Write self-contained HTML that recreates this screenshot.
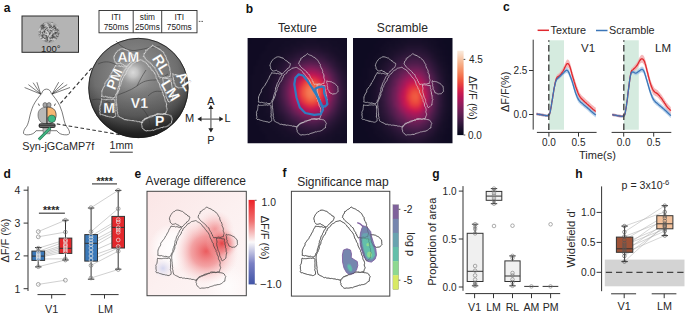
<!DOCTYPE html>
<html><head><meta charset="utf-8">
<style>
html,body{margin:0;padding:0;background:#fff;}
body{width:685px;height:317px;overflow:hidden;}
svg{display:block;font-family:"Liberation Sans",sans-serif;}
.lb{font-weight:bold;font-size:12px;fill:#111;}
.t{fill:#262626;}
</style></head><body>
<svg width="685" height="317" viewBox="0 0 685 317" xmlns="http://www.w3.org/2000/svg">
<defs>
 <g id="ol">
  <path d="M22.4,27.6 L22.7,26.0 L23.4,24.6 L23.9,23.3 L24.9,22.4 L25.7,21.2 L26.5,20.4 L27.7,20.1 L28.5,19.2 L29.6,18.9 L30.8,18.8 L32.0,19.0 L33.2,19.4 L34.3,19.9 L35.5,20.1 L36.4,20.8 L37.2,21.7 L38.0,22.5 L39.1,22.9 L40.1,23.6 L40.8,24.7 L42.2,25.0 L42.8,25.9 L42.6,27.1 L42.2,28.2 L41.7,29.4 L40.8,30.1 L39.7,30.6 L39.3,31.7 L38.3,32.3 L37.4,33.0 L36.8,34.0 L35.9,34.7 L35.0,35.8 L33.8,35.4 L32.7,34.9 L31.9,34.0 L30.8,33.6 L29.7,33.1 L28.8,32.3 L27.5,32.7 L26.2,33.0 L25.1,33.0 L24.2,31.9 L23.1,30.8 L23.0,29.2Z"/>
  <path d="M24.1,34.7 L25.2,35.1 L26.4,35.2 L27.6,35.1 L28.6,35.7 L29.9,35.3 L31.0,35.7 L32.1,36.1 L33.3,35.9 L34.4,36.3 L34.1,37.6 L33.1,38.6 L32.4,39.7 L32.0,41.0 L31.2,42.1 L30.9,43.5 L30.1,44.5 L29.5,45.8 L29.2,46.9 L29.0,48.0 L28.4,49.0 L28.0,50.1 L28.0,51.3 L27.6,52.4 L27.7,53.7 L27.0,54.8 L26.8,56.0 L26.2,57.2 L25.9,58.6 L25.8,60.1 L25.2,61.2 L24.4,62.3 L24.2,63.7 L23.3,64.7 L22.5,65.7 L21.3,65.6 L20.1,65.5 L19.0,64.9 L17.7,65.2 L16.6,64.9 L15.4,64.7 L14.3,64.2 L13.0,64.6 L11.9,64.2 L10.7,64.0 L11.0,62.7 L10.9,61.3 L10.9,60.1 L11.1,58.6 L11.7,57.3 L12.2,56.0 L13.1,54.8 L13.7,53.5 L13.7,52.0 L14.5,50.9 L15.3,49.9 L16.0,48.8 L16.8,48.0 L17.5,47.1 L18.0,46.0 L18.5,44.9 L19.3,44.2 L19.8,42.8 L20.5,41.6 L21.3,40.4 L21.7,39.2 L22.2,38.0 L22.9,36.9 L23.6,35.9Z"/>
  <path d="M10.7,66.8 L11.9,67.4 L13.1,67.3 L14.2,67.4 L15.4,67.3 L16.6,67.0 L17.8,67.0 L19.0,66.8 L20.1,67.2 L21.3,66.8 L22.7,66.9 L23.5,67.9 L23.5,69.0 L23.4,70.2 L23.6,71.3 L23.6,72.4 L23.5,73.5 L23.6,74.7 L23.4,75.8 L23.8,76.9 L23.3,78.2 L23.6,79.4 L24.1,80.5 L24.1,81.7 L24.1,83.0 L23.1,83.5 L22.1,84.2 L21.0,84.3 L19.8,83.8 L18.5,83.7 L17.4,83.3 L16.1,83.2 L14.9,82.8 L13.7,82.4 L12.4,82.1 L11.2,81.4 L9.7,81.5 L8.8,80.5 L9.4,79.2 L9.1,78.0 L8.9,76.7 L9.1,75.5 L8.8,74.1 L9.4,73.0 L10.0,71.9 L10.1,70.7 L10.3,69.5 L10.3,68.2Z"/>
  <path d="M36.1,37.5 L36.8,36.6 L37.9,36.1 L38.5,35.2 L39.4,34.5 L39.9,33.4 L41.0,32.5 L42.3,32.0 L43.4,31.2 L44.4,30.3 L45.8,30.0 L47.2,29.7 L48.5,29.3 L49.6,29.7 L50.5,30.5 L51.5,31.0 L52.5,31.5 L53.5,32.2 L54.2,33.1 L55.0,33.8 L55.6,34.8 L56.3,35.8 L57.3,36.3 L57.8,37.3 L58.4,38.2 L59.1,39.2 L60.0,39.9 L60.7,40.8 L61.4,41.7 L62.0,42.9 L62.6,44.1 L62.9,45.4 L63.3,46.7 L63.9,47.8 L64.6,48.8 L64.9,49.9 L65.3,51.1 L66.3,52.0 L66.4,53.3 L66.7,54.6 L67.3,55.7 L67.8,56.9 L68.5,58.0 L69.1,59.0 L69.1,60.3 L69.9,61.3 L70.0,62.5 L70.3,63.7 L71.1,64.7 L71.4,65.9 L71.4,67.3 L71.9,68.5 L72.7,69.7 L73.1,71.0 L73.2,72.2 L72.8,73.6 L73.1,74.9 L73.7,76.1 L73.4,77.3 L72.9,78.3 L72.6,79.4 L72.3,80.6 L71.0,80.6 L69.8,81.1 L68.5,81.3 L67.2,80.8 L66.0,81.2 L64.7,81.5 L63.5,81.5 L62.5,82.2 L61.3,82.3 L60.2,82.6 L59.2,83.4 L58.1,83.7 L56.9,84.1 L55.7,84.7 L54.4,84.9 L53.3,85.7 L52.0,86.0 L51.5,87.1 L50.4,87.8 L50.0,89.1 L48.7,88.8 L47.5,88.5 L46.3,88.1 L44.9,88.2 L43.7,87.6 L42.4,87.6 L41.2,87.3 L39.9,87.1 L38.7,87.3 L37.6,86.8 L36.5,86.8 L35.3,86.8 L34.3,86.1 L33.1,86.4 L32.0,86.0 L31.0,85.2 L29.8,84.7 L28.6,84.2 L27.6,83.5 L26.5,82.9 L26.5,81.8 L25.9,80.7 L26.1,79.6 L25.7,78.5 L25.5,77.4 L25.7,76.1 L25.4,74.8 L25.3,73.6 L25.2,72.3 L25.2,71.0 L24.8,69.7 L24.9,68.5 L24.7,67.2 L24.7,66.0 L24.7,64.7 L25.0,63.5 L25.5,62.4 L25.9,61.3 L26.6,60.3 L26.9,59.0 L27.5,57.9 L27.9,56.7 L27.8,55.3 L28.4,54.1 L29.1,53.0 L29.5,51.9 L29.5,50.6 L30.0,49.4 L30.7,48.4 L30.9,47.2 L31.6,46.0 L32.1,44.8 L33.1,43.8 L33.8,42.7 L34.4,41.7 L34.4,40.5 L35.3,39.7 L35.8,38.7Z"/>
  <path d="M51.6,23.6 L52.5,22.7 L53.1,21.7 L53.2,20.3 L54.5,20.0 L55.3,18.9 L56.3,18.2 L57.5,17.7 L58.6,16.8 L59.7,15.6 L60.7,16.3 L61.7,16.9 L62.9,17.3 L64.0,17.7 L65.0,18.4 L65.9,19.1 L67.2,19.5 L68.0,20.6 L69.1,21.3 L70.2,22.2 L70.8,23.4 L71.4,24.5 L72.0,25.5 L72.8,26.4 L72.7,27.7 L73.2,28.8 L73.4,29.9 L74.4,30.8 L74.7,32.0 L75.2,33.1 L75.0,34.5 L75.7,35.6 L76.2,36.7 L76.4,38.0 L76.2,39.1 L76.4,40.2 L76.9,41.3 L77.1,42.4 L76.7,43.4 L76.3,45.5 L75.1,45.4 L74.0,46.0 L72.9,46.1 L71.7,45.7 L70.6,46.0 L69.5,46.3 L68.0,46.1 L66.9,46.8 L66.5,45.6 L65.5,44.8 L65.5,43.5 L64.4,42.7 L64.4,41.4 L63.5,40.3 L62.8,39.2 L62.3,38.0 L61.8,36.6 L60.7,36.0 L59.8,35.1 L59.2,34.0 L58.3,33.2 L57.4,32.4 L56.4,31.6 L55.4,30.8 L54.4,30.0 L53.4,29.1 L52.6,28.1 L52.0,26.9 L50.9,26.0 L51.4,24.9Z"/>
  <path d="M69.4,46.8 L70.5,47.0 L71.7,46.8 L72.8,47.1 L73.9,47.0 L75.0,47.6 L76.1,47.5 L77.4,47.6 L77.4,48.9 L77.3,50.2 L78.1,51.5 L77.8,52.8 L78.3,53.9 L78.5,55.0 L78.4,56.1 L79.0,57.1 L79.1,58.2 L79.2,59.4 L79.2,60.5 L79.9,61.5 L79.3,62.8 L79.2,64.1 L79.0,65.4 L78.9,66.8 L77.8,67.7 L76.8,68.7 L75.3,69.6 L74.3,68.6 L74.3,67.3 L73.6,66.2 L73.1,65.1 L72.6,63.9 L72.7,62.6 L72.3,61.4 L71.8,60.3 L71.2,59.3 L70.9,58.1 L70.6,57.0 L70.4,55.8 L69.9,54.7 L69.8,53.5 L69.6,52.2 L70.0,50.9 L69.9,49.6 L69.5,48.3Z"/>
  <path d="M79.3,42.8 L80.4,43.6 L81.7,43.4 L82.8,43.7 L84.0,43.9 L84.9,44.5 L85.9,45.0 L86.9,45.4 L88.1,46.3 L88.9,47.5 L90.2,48.6 L90.2,49.7 L90.4,50.8 L90.3,51.9 L90.6,53.2 L89.9,54.1 L89.0,54.8 L88.2,55.8 L86.6,55.8 L85.0,56.1 L83.6,55.3 L82.1,54.8 L81.6,53.6 L81.1,52.4 L80.2,51.3 L80.0,50.2 L80.2,49.0 L79.5,48.0 L79.7,46.8 L79.5,45.5 L79.0,44.3Z"/>
  <path d="M71.7,81.1 L72.8,81.4 L73.9,81.4 L75.0,81.7 L76.0,81.9 L77.3,82.8 L77.9,84.1 L78.8,85.3 L78.3,86.4 L78.1,87.5 L77.9,88.6 L77.9,89.8 L76.6,90.4 L75.5,91.4 L74.4,92.3 L73.3,92.8 L72.3,93.2 L71.2,93.3 L70.0,93.4 L69.0,93.9 L67.8,93.8 L66.8,94.3 L65.7,94.7 L64.7,95.0 L63.4,95.3 L62.2,95.8 L61.1,96.5 L59.7,96.3 L58.5,96.6 L57.3,96.8 L56.0,96.8 L54.8,96.7 L53.5,97.1 L52.4,96.7 L51.3,95.7 L50.3,94.6 L49.5,93.3 L49.6,92.2 L49.0,91.1 L49.2,90.0 L49.0,89.1 L49.7,88.0 L50.5,87.0 L51.4,86.2 L52.3,85.4 L53.5,85.0 L54.7,84.5 L55.9,84.1 L56.9,83.3 L58.1,82.9 L59.3,82.5 L60.5,82.5 L61.5,81.9 L62.6,81.7 L63.5,80.9 L64.7,80.6 L65.9,80.7 L67.0,81.0 L68.2,81.0 L69.4,81.0 L70.5,80.8Z"/>
 </g>
 <radialGradient id="magT" cx="61" cy="61" r="52" gradientUnits="userSpaceOnUse" gradientTransform="translate(61 61) scale(1 1.12) translate(-61 -61)">
  <stop offset="0" stop-color="#fb9a66"/>
  <stop offset="0.085" stop-color="#f77a5c"/>
  <stop offset="0.18" stop-color="#e84e5f"/>
  <stop offset="0.27" stop-color="#c62e6a"/>
  <stop offset="0.355" stop-color="#8f1d68"/>
  <stop offset="0.43" stop-color="#62165c"/>
  <stop offset="0.53" stop-color="#3a1046"/>
  <stop offset="0.64" stop-color="#261032"/>
  <stop offset="0.78" stop-color="#1e0f2b"/>
  <stop offset="0.9" stop-color="#190f25"/>
  <stop offset="1" stop-color="#13101f"/>
 </radialGradient>
 <radialGradient id="magS" cx="63" cy="58.5" r="52" gradientUnits="userSpaceOnUse" gradientTransform="translate(63 58.5) scale(1 1.12) translate(-63 -58.5)">
  <stop offset="0" stop-color="#f37a58"/>
  <stop offset="0.085" stop-color="#ea5a5e"/>
  <stop offset="0.18" stop-color="#d63b66"/>
  <stop offset="0.27" stop-color="#b02a6c"/>
  <stop offset="0.355" stop-color="#811a66"/>
  <stop offset="0.43" stop-color="#5a145a"/>
  <stop offset="0.53" stop-color="#351044"/>
  <stop offset="0.64" stop-color="#241031"/>
  <stop offset="0.78" stop-color="#1d0f2a"/>
  <stop offset="0.9" stop-color="#180f24"/>
  <stop offset="1" stop-color="#13101f"/>
 </radialGradient>
 <linearGradient id="magCB" x1="0" y1="1" x2="0" y2="0">
  <stop offset="0.00" stop-color="#03051a"/>
  <stop offset="0.05" stop-color="#130d25"/>
  <stop offset="0.10" stop-color="#251433"/>
  <stop offset="0.15" stop-color="#381a40"/>
  <stop offset="0.20" stop-color="#4c1d4b"/>
  <stop offset="0.25" stop-color="#611f53"/>
  <stop offset="0.30" stop-color="#751f58"/>
  <stop offset="0.35" stop-color="#8b1d5b"/>
  <stop offset="0.40" stop-color="#a11a5b"/>
  <stop offset="0.45" stop-color="#b71657"/>
  <stop offset="0.50" stop-color="#cb1b4f"/>
  <stop offset="0.55" stop-color="#db2946"/>
  <stop offset="0.60" stop-color="#e83f3f"/>
  <stop offset="0.65" stop-color="#ef5840"/>
  <stop offset="0.70" stop-color="#f3714d"/>
  <stop offset="0.75" stop-color="#f58860"/>
  <stop offset="0.80" stop-color="#f69c73"/>
  <stop offset="0.85" stop-color="#f6b18b"/>
  <stop offset="0.90" stop-color="#f7c6a6"/>
  <stop offset="0.95" stop-color="#f8d9c3"/>
  <stop offset="1.00" stop-color="#faebdd"/>
 </linearGradient>
 <linearGradient id="bwr" x1="0" y1="0" x2="0" y2="1">
  <stop offset="0" stop-color="#ec2228"/>
  <stop offset="0.25" stop-color="#f07070"/>
  <stop offset="0.5" stop-color="#fbf9f9"/>
  <stop offset="0.75" stop-color="#7a80c4"/>
  <stop offset="1" stop-color="#4154a6"/>
 </linearGradient>
 <radialGradient id="brainL" cx="136" cy="74" r="60" gradientUnits="userSpaceOnUse">
  <stop offset="0" stop-color="#929292"/>
  <stop offset="0.45" stop-color="#7c7c7c"/>
  <stop offset="0.7" stop-color="#6e6e6e"/>
  <stop offset="0.85" stop-color="#5a5a5a"/>
  <stop offset="1" stop-color="#3a3a3a"/>
 </radialGradient>
 <linearGradient id="brainB" x1="0" y1="86" x2="0" y2="138" gradientUnits="userSpaceOnUse">
  <stop offset="0" stop-color="#000" stop-opacity="0"/>
  <stop offset="0.55" stop-color="#000" stop-opacity="0.2"/>
  <stop offset="1" stop-color="#000" stop-opacity="0.5"/>
 </linearGradient>
 <radialGradient id="brainS" cx="133" cy="72.5" r="24" gradientUnits="userSpaceOnUse">
  <stop offset="0" stop-color="#e0e0e0" stop-opacity="0.92"/>
  <stop offset="0.2" stop-color="#cfcfcf" stop-opacity="0.85"/>
  <stop offset="0.5" stop-color="#a8a8a8" stop-opacity="0.45"/>
  <stop offset="1" stop-color="#888" stop-opacity="0"/>
 </radialGradient>
 <radialGradient id="eR1" cx="59" cy="60" r="33" gradientUnits="userSpaceOnUse">
  <stop offset="0" stop-color="#ea5457" stop-opacity="0.95"/>
  <stop offset="0.45" stop-color="#ef7f81" stop-opacity="0.7"/>
  <stop offset="1" stop-color="#f8d0d0" stop-opacity="0"/>
 </radialGradient>
 <radialGradient id="eR2" cx="75" cy="52" r="16" gradientUnits="userSpaceOnUse">
  <stop offset="0" stop-color="#e2363a" stop-opacity="0.9"/>
  <stop offset="0.55" stop-color="#ec6f72" stop-opacity="0.55"/>
  <stop offset="1" stop-color="#f5c0c0" stop-opacity="0"/>
 </radialGradient>
 <radialGradient id="eR3" cx="68" cy="38" r="19" gradientUnits="userSpaceOnUse">
  <stop offset="0" stop-color="#ee6e71" stop-opacity="0.75"/>
  <stop offset="1" stop-color="#f7c8c8" stop-opacity="0"/>
 </radialGradient>
 <radialGradient id="eW" cx="26" cy="56" r="24" gradientUnits="userSpaceOnUse">
  <stop offset="0" stop-color="#ffffff" stop-opacity="1"/>
  <stop offset="0.6" stop-color="#ffffff" stop-opacity="0.7"/>
  <stop offset="1" stop-color="#ffffff" stop-opacity="0"/>
 </radialGradient>
 <radialGradient id="eW2" cx="80" cy="95" r="22" gradientUnits="userSpaceOnUse">
  <stop offset="0" stop-color="#ffffff" stop-opacity="0.8"/>
  <stop offset="1" stop-color="#ffffff" stop-opacity="0"/>
 </radialGradient>
 <radialGradient id="eB" cx="16" cy="77" r="10" gradientUnits="userSpaceOnUse">
  <stop offset="0" stop-color="#d4d6ef" stop-opacity="1"/>
  <stop offset="1" stop-color="#ebebf6" stop-opacity="0"/>
 </radialGradient>
 <linearGradient id="eBG" x1="0" y1="0" x2="1" y2="1">
  <stop offset="0" stop-color="#fbe6e6"/>
  <stop offset="0.5" stop-color="#fcf0f0"/>
  <stop offset="1" stop-color="#fdf6f6"/>
 </linearGradient>
<clipPath id="cpH1"><rect width="99.4" height="105.2"/></clipPath>
<clipPath id="cpH2"><rect width="99.5" height="105.2"/></clipPath>
<filter id="blH" x="-0.1" y="-0.1" width="1.2" height="1.2" color-interpolation-filters="sRGB"><feGaussianBlur stdDeviation="1.5"/></filter>
</defs>

<!-- ============ PANEL A ============ -->
<text class="lb" x="3.8" y="12">a</text>
<rect x="22" y="16" width="56.5" height="36.3" fill="#b4b4b4" stroke="#2b2b2b" stroke-width="1"/>
<g transform="translate(48.9,32.1)">
 <circle r="10.7" fill="#a2a2a2"/>
 <g fill="none" stroke-linecap="round" stroke-linejoin="round">
  <path d="M-6.4,-2.5 L-5.4,-3.2 L-4.4,-3.8 L-3.3,-4.2 M-4.4,-0.3 L-4.4,-1.5 L-5.4,-2.1 L-6.6,-2.1 M1.1,-2.9 L-0.1,-2.9 L-0.4,-4.1 L0.5,-4.8 M-6.2,-5.5 L-5.1,-5.9 L-3.9,-6.1 L-3.6,-7.3 M0.2,4.5 L1.4,4.6 L2.6,4.5 L3.4,5.4 M-4.7,-5.7 L-5.8,-6.2 L-7.0,-6.6 L-8.1,-6.3 M0.7,5.7 L1.7,6.5 L1.9,7.7 L2.4,8.8 M-7.2,6.2 L-6.2,6.9 L-5.3,6.2 L-5.1,5.0 M-9.7,1.8 L-8.5,1.4 L-8.5,0.2 L-8.0,-0.9 M-1.1,9.0 L0.1,9.2 M6.6,6.1 L7.7,6.6 M4.0,8.3 L2.9,8.0 L1.9,8.6 L0.7,8.6 M-2.3,-2.9 L-1.3,-2.3 L-0.1,-2.6 L0.7,-3.5 M3.3,-9.6 L2.2,-9.3 L1.5,-8.3 L1.1,-7.2 M-6.0,-7.4 L-6.4,-6.3 L-5.9,-5.2 L-4.9,-4.6 M-4.3,8.0 L-3.4,8.8 L-2.3,8.4 L-1.1,8.3 M-4.1,-3.0 L-4.8,-2.1 L-6.0,-2.4 L-7.1,-2.6 M5.2,-5.8 L6.4,-5.5 L6.7,-4.4 L6.0,-3.3 M1.9,4.8 L3.0,4.2 L3.3,3.1 L4.5,2.9 M-7.7,-5.9 L-7.8,-4.7 L-6.7,-4.2 L-6.7,-3.0 M-1.4,-4.8 L-2.3,-4.1 L-3.4,-3.6 L-4.1,-2.6 M-0.8,-4.2 L0.4,-4.6 L1.5,-4.7 L2.4,-3.8 M-1.5,7.9 L-1.2,6.8 L-2.2,6.1 L-3.4,6.1 M6.4,2.5 L7.3,3.4 L7.9,4.4 L9.1,4.4 M4.8,-3.9 L6.0,-3.6 L6.8,-2.7 L7.4,-1.7 M3.8,0.8 L4.2,2.0 L4.1,3.1 L2.9,3.4 M-1.0,-1.1 L-2.0,-1.7 L-3.2,-1.7 L-3.5,-2.9 M-2.7,-0.8 L-1.7,-1.5 L-0.5,-1.5 L0.5,-0.9 M7.9,-4.7 L6.8,-4.1 L5.8,-4.8 L5.8,-6.0 M1.7,-6.4 L2.6,-7.2 L3.7,-7.6 L4.7,-8.3 M-6.1,-5.0 L-5.3,-4.1 L-6.0,-3.0 L-7.2,-3.0 M-6.7,5.7 L-6.6,4.5 L-6.6,3.3 L-5.7,2.5 M0.0,-3.0 L1.1,-2.5 L2.2,-2.0 L3.3,-2.3 M-8.6,0.1 L-8.3,-1.0 L-8.8,-2.1 L-10.0,-2.0 M-2.5,-5.1 L-1.4,-4.6 L-1.2,-3.4 L-1.6,-2.3 M5.3,-4.3 L4.4,-3.6 L4.2,-2.4 L4.3,-1.2 M-3.2,7.2 L-2.4,8.1 L-2.6,9.3 M8.3,-2.7 L9.0,-1.8 L9.9,-0.9 M-4.1,2.5 L-4.9,1.6 L-6.1,1.3 L-6.6,0.2 M-9.8,3.0 L-8.9,2.2 L-7.7,2.4 L-7.0,1.5 M-7.8,-3.7 L-8.9,-3.2 L-8.8,-2.0 L-7.7,-1.4 M6.9,1.1 L6.6,-0.1 L5.6,-0.6 L4.7,0.2 M-7.7,2.7 L-8.1,1.6 L-7.6,0.5 L-6.4,0.6 M2.7,8.1 L2.0,9.1 M-1.6,-6.9 L-0.5,-6.3 L0.6,-6.1 L1.6,-5.4 M-5.6,-4.9 L-5.9,-6.1 L-5.3,-7.1 L-4.1,-7.1 M2.8,-1.3 L1.7,-1.8 L0.5,-2.1 L-0.4,-2.8 M-7.0,6.9 L-7.2,5.7 L-6.5,4.7 L-5.3,4.9 M-4.1,-5.7 L-4.4,-4.6 L-5.5,-4.0 L-6.7,-3.9 M2.0,8.5 L3.0,9.2 M1.9,-7.3 L0.7,-7.2 L-0.1,-8.1 L-1.1,-8.7 M-2.8,1.1 L-3.4,0.1 L-4.1,-0.9 L-5.2,-0.6 M8.5,3.6 L7.9,2.6 L6.9,1.9 L6.7,0.7 M2.3,3.1 L1.4,2.3 L1.4,1.1 L1.9,0.1 M-10.0,0.5 L-9.8,-0.7 M-1.9,7.2 L-1.6,6.1 L-1.3,4.9 L-0.1,4.5 M-2.9,7.1 L-4.1,7.0 L-4.5,5.8 L-5.6,5.3 M9.3,-1.9 L8.2,-2.3 L7.1,-1.8 L6.0,-1.4 M-5.8,-4.5 L-5.6,-3.3 L-5.4,-2.1 L-4.9,-1.0 M-2.6,-0.6 L-3.5,-1.4 L-3.3,-2.5 L-3.8,-3.6 M4.9,5.1 L3.8,4.6 L3.7,3.4 L3.5,2.2 M2.1,5.4 L2.4,4.3 L1.7,3.3 L1.7,2.1 M0.5,1.5 L0.1,2.6 L0.3,3.8 L0.8,4.8 M6.4,5.0 L5.3,4.4 L4.3,3.8 L3.1,4.0 M-4.5,-0.9 L-5.4,-0.1 L-6.1,0.9 L-6.9,1.8 M1.2,3.9 L0.7,2.8 L0.4,1.7 L1.0,0.7 M5.0,-6.3 L4.4,-5.3 L3.2,-5.0 L2.4,-5.8 M-2.3,5.3 L-1.9,4.2 L-0.7,4.3 L-0.1,5.3 M0.3,3.8 L-0.6,2.9 L-1.7,3.2 L-2.7,2.5 M1.7,-6.5 L2.7,-5.9 L3.3,-4.8 L4.5,-5.1 M-1.9,-4.2 L-1.0,-3.5 L0.2,-3.9 L1.3,-4.3 M-9.0,-0.2 L-10.1,-0.6 M3.3,0.8 L2.1,0.4 L1.1,-0.3 L-0.0,0.2 M1.3,4.2 L2.4,4.6 L2.6,5.7 L3.8,6.1 M2.4,-0.8 L1.4,-1.3 L0.2,-1.3 L-1.0,-1.2 M-6.7,3.1 L-7.7,3.9 L-8.9,4.0 L-9.7,3.1 M-4.2,1.3 L-4.6,0.1 L-5.6,-0.4 L-6.7,0.0 M7.3,0.7 L8.5,0.8 L9.5,1.6 L9.5,2.8 M-6.7,4.6 L-7.7,3.9 L-7.3,2.8 L-6.3,2.2 M4.4,-2.8 L5.2,-3.7 L6.4,-3.8 L7.5,-4.1 M-7.5,5.0 L-8.6,4.7 M7.0,0.5 L6.0,1.1 L4.8,1.4 L4.1,2.3 M-5.0,-8.7 L-6.0,-8.0 M-5.8,4.8 L-4.7,5.2 L-3.9,6.2 L-3.9,7.4 M10.1,1.5 L9.8,0.3 L8.9,-0.5 L7.8,-1.0 M0.8,2.2 L1.1,3.3 L2.0,4.1 L1.8,5.3 M-7.6,-0.4 L-6.4,-0.4 L-6.1,0.7 L-6.1,1.9 M8.2,4.3 L7.9,3.1 L6.7,3.0 L6.3,1.9 M-4.1,0.7 L-3.5,1.8 L-3.2,2.9 L-2.0,3.2 M-1.4,6.1 L-1.9,5.0 L-2.9,4.3 L-3.4,3.3 M5.6,0.5 L6.7,0.9 L7.7,0.3 L8.9,0.4 M5.1,-3.9 L4.0,-4.3 L4.1,-5.5 L5.3,-5.9 M2.3,-1.6 L1.3,-1.0 L0.4,-1.8 L-0.8,-1.9 M6.9,-2.9 L6.6,-4.0 L7.6,-4.7 L8.7,-4.4 M6.0,5.3 L5.1,4.6 L3.9,4.7 L3.5,5.8 M5.3,5.3 L4.1,5.2 L2.9,5.2 L2.0,6.0 M-6.9,3.8 L-6.6,2.6 L-5.4,2.6 L-4.9,3.7 M0.6,8.8 L0.4,10.0 M-5.2,6.3 L-5.9,7.3 M-5.3,-5.9 L-6.2,-6.7 L-7.3,-6.9 M-4.8,2.4 L-5.9,2.7 L-7.1,2.9 L-7.5,4.1 M-1.4,-2.7 L-2.3,-3.4 L-3.4,-3.8 L-4.6,-4.2 M-2.6,3.9 L-1.7,3.1 L-2.0,2.0 L-3.2,1.6" stroke="#3c3c3c" stroke-width="0.5"/>
  <path d="M-0.3,6.7 L-0.3,5.5 L0.2,4.4 L1.4,4.6 M-5.6,-1.8 L-4.6,-2.3 L-3.6,-3.1 L-3.0,-4.1 M2.3,-2.3 L3.3,-2.9 L4.4,-3.4 L5.4,-4.0 M-2.6,8.1 L-3.5,7.4 L-4.7,7.6 L-5.9,7.2 M-1.0,2.8 L-0.6,1.6 L-0.8,0.5 L-1.9,-0.0 M-0.9,-6.1 L-0.6,-4.9 L-0.9,-3.8 L-1.5,-2.7 M7.9,-6.1 L8.3,-5.0 L9.1,-4.1 M-4.9,4.2 L-4.7,5.4 L-5.4,6.4 L-6.2,7.3 M-8.7,-3.6 L-8.9,-2.4 L-10.1,-2.0 M-1.5,-0.2 L-2.6,-0.7 L-2.5,-1.9 L-1.9,-2.9 M8.5,3.6 L7.9,2.6 L6.7,2.6 L6.2,3.7 M7.1,-5.2 L7.9,-4.3 L9.1,-4.4 M0.2,8.3 L-0.3,9.3 M-7.1,5.5 L-8.3,5.3 M-7.0,-1.7 L-6.6,-2.8 L-5.4,-3.0 L-4.3,-3.4 M-4.7,-8.1 L-3.5,-8.3 L-2.6,-7.4 L-2.8,-6.3 M-8.1,4.4 L-8.3,5.5 M-7.3,7.2 L-6.1,7.6 L-4.9,7.7 L-3.8,7.1 M1.3,-8.2 L2.5,-8.2 L3.7,-8.3 L4.9,-8.2 M0.4,4.8 L0.5,3.6 L-0.3,2.6 L-1.5,2.6 M2.6,4.8 L2.0,3.7 L1.7,2.6 L2.3,1.6 M-0.5,7.1 L0.7,7.6 L1.8,7.5 L3.0,7.6 M-10.0,1.1 L-8.8,1.4 L-8.6,2.5 L-9.3,3.5 M-6.3,-1.1 L-7.4,-0.5 L-8.2,-1.4 L-8.6,-2.5 M5.0,0.3 L4.0,0.9 L2.8,0.6 L2.0,-0.3 M4.4,6.7 L5.5,7.3 L6.6,7.2 M-4.8,-5.6 L-3.9,-6.3 L-2.9,-7.0 L-2.7,-8.2 M9.0,0.1 L10.2,-0.2 M-0.4,2.9 L-1.5,2.6 L-2.7,2.3 L-3.9,2.0 M-7.9,4.6 L-8.0,3.4 L-7.1,2.6 L-7.0,1.4 M-7.5,-1.2 L-7.8,-0.1 L-7.6,1.1 L-6.8,2.0 M-1.0,2.7 L-2.1,2.3 L-3.3,2.3 L-4.4,1.7 M-2.6,2.1 L-3.3,1.1 L-3.0,-0.1 L-2.3,-1.0 M-0.8,0.8 L-1.8,0.1 L-2.6,-0.8 L-3.5,-1.5 M1.1,-0.1 L0.5,-1.1 L0.3,-2.3 L-0.4,-3.2 M-6.1,-1.6 L-6.0,-0.4 L-5.5,0.7 L-5.5,1.9 M1.6,5.0 L1.0,3.9 L1.7,3.0 L2.5,2.1 M-4.3,7.6 L-5.0,6.6 L-6.2,6.6 L-6.8,7.6 M-2.2,-8.2 L-1.4,-7.3 L-1.6,-6.1 L-2.1,-5.0 M0.5,3.1 L1.7,3.1 L2.8,2.8 L3.1,1.6 M3.9,-8.1 L3.4,-7.0 L3.2,-5.9 L4.2,-5.3 M-2.0,-6.2 L-1.1,-5.5 L-0.5,-4.4 L-0.2,-3.3 M-0.7,1.2 L-1.7,1.9 L-1.6,3.1 L-1.2,4.2 M1.8,-7.1 L2.6,-8.0 L2.4,-9.2 M-9.3,-2.9 L-10.1,-2.0 L-9.7,-0.8 L-10.0,0.3 M-10.2,-1.0 L-9.4,-2.0 L-9.6,-3.2 L-8.6,-3.8 M2.6,7.7 L3.8,7.6 L5.0,7.6 L6.0,8.3 M5.3,-2.5 L4.7,-1.6 L5.1,-0.4 L4.2,0.3 M3.1,-2.2 L2.0,-2.7 L1.0,-3.3 L-0.2,-3.3 M1.6,-3.2 L0.5,-2.9 L-0.2,-1.9 L-1.1,-1.0 M3.7,8.6 L2.9,9.5 M4.4,-0.4 L5.6,-0.3 L6.6,-0.9 L7.8,-0.9" stroke="#d8d8d8" stroke-width="0.7"/>
 </g>
</g>
<text x="41" y="52" font-size="9.5" fill="#222">100°</text>

<rect x="99" y="10.5" width="98" height="22.3" fill="#fff" stroke="#2b2b2b" stroke-width="0.9"/>
<line x1="133.2" y1="10.5" x2="133.2" y2="32.8" stroke="#2b2b2b" stroke-width="0.9"/>
<line x1="161.7" y1="10.5" x2="161.7" y2="32.8" stroke="#2b2b2b" stroke-width="0.9"/>
<g font-size="8.3" fill="#222" text-anchor="middle">
 <text x="116.1" y="19.6">ITI</text><text x="116.1" y="29.8">750ms</text>
 <text x="147.4" y="19.6">stim</text><text x="147.4" y="29.8">250ms</text>
 <text x="179.3" y="19.6">ITI</text><text x="179.3" y="29.8">750ms</text>
</g>
<line x1="198.8" y1="21.4" x2="203.4" y2="21.4" stroke="#333" stroke-width="0.8" stroke-dasharray="1.6 1"/>

<!-- mouse -->
<g fill="none" stroke="#222" stroke-width="0.6">
 <path d="M40.7,94.1 L24.6,87.5 M40.7,94.1 L28.4,84.6 M40.7,94.1 L33.1,82.7 M40.7,94.1 L36.9,82.2"/>
 <path d="M52,94.1 L58.7,82.2 M52,94.1 L63.4,82.7 M52,94.1 L67.2,84.6 M52,94.1 L70,87.5"/>
</g>
<path d="M41.7,93.4 C42.2,91.2 44,89.1 46.5,89.1 C49,89.1 50.8,91.2 51.3,93.4 C53.5,96 57.5,101 59.7,105.5 C61.5,109.5 62.8,114 63.6,118 C64.3,121.5 65.2,124.5 66.3,126.3 C68.2,128.5 69.8,131 69.5,133.3 C68.5,135.3 65.4,135 62.5,134.5 C60,134 58,132.5 56.9,130.7 L36.1,130.7 C35,132.5 33,134 30.5,134.5 C27.6,135 24.5,135.3 23.5,133.3 C23.2,131 24.8,128.5 26.7,126.3 C27.8,124.5 28.7,121.5 29.4,118 C30.2,114 31.5,109.5 33.3,105.5 C35.5,101 39.5,96 41.7,93.4Z" fill="#fff" stroke="#222" stroke-width="0.6"/>
<path d="M38.4,103.6 L39.4,105.8 M55.4,103.6 L54.4,105.8" stroke="#222" stroke-width="0.8"/>
<!-- brain parts -->
<ellipse cx="45" cy="105" rx="2.1" ry="2.4" fill="#a8a8a8" stroke="#333" stroke-width="0.5"/>
<ellipse cx="49" cy="105" rx="2.1" ry="2.4" fill="#a8a8a8" stroke="#333" stroke-width="0.5"/>
<path d="M47,107.2 C41.5,107.2 38,109.5 38,115 C38,120 41,124 47,124Z" fill="#b8b8b8" stroke="#333" stroke-width="0.5"/>
<path d="M47,107.2 C52.5,107.2 56,109.5 56,115 C56,120 53,124 47,124Z" fill="#b8b8b8" stroke="#333" stroke-width="0.5"/>
<path d="M47,107.2 C52.5,107.2 56,109.5 56,115 L56,116.9 L47,116.9Z" fill="#f6b774"/>
<path d="M47,107.2 C52.5,107.2 56,109.5 56,115 C56,120 53,124 47,124Z" fill="none" stroke="#333" stroke-width="0.5"/>
<line x1="47" y1="107.2" x2="47" y2="124" stroke="#333" stroke-width="0.5"/>
<circle cx="51.8" cy="118.8" r="3.8" fill="#3fba86" stroke="#222" stroke-width="0.4"/>
<rect x="38.5" y="123.3" width="17.2" height="4.8" rx="2.4" fill="#333"/>
<path d="M40,124.8 H54.5 M40,126.5 H54.5" stroke="#aaa" stroke-width="0.45"/>
<path d="M42.8,128 L50.6,128 L50,133.8 L43.4,133.8Z" fill="#b8b8b8" stroke="#333" stroke-width="0.4"/>
<line x1="50.3" y1="128" x2="38.9" y2="139.6" stroke="#1f6f4c" stroke-width="2.8"/>
<line x1="50.3" y1="128" x2="38.9" y2="139.6" stroke="#3fb07f" stroke-width="1.9"/>
<text x="22.2" y="149.7" font-size="10.8" class="t">Syn-jGCaMP7f</text>
<!-- dashed connectors -->
<line x1="60.4" y1="103.4" x2="92.3" y2="67.3" stroke="#333" stroke-width="1.15" stroke-dasharray="3.8 2.4"/>
<line x1="56.8" y1="123.9" x2="119.5" y2="134.6" stroke="#333" stroke-width="1.1" stroke-dasharray="3.6 2.4"/>

<!-- brain image -->
<circle cx="138.4" cy="88" r="50" fill="url(#brainL)"/>
<circle cx="138.4" cy="88" r="50" fill="url(#brainS)"/>
<circle cx="138.4" cy="88" r="50" fill="url(#brainB)"/>
<circle cx="138.4" cy="88" r="49.7" fill="none" stroke="#1a1a1a" stroke-width="0.8"/>
<g fill="none" stroke="#333" stroke-width="0.7" opacity="0.75">
 <path d="M98,64 C106,60 112,62 118,66"/>
 <path d="M116,41 C122,48 130,52 138,50 C146,49 152,46 160,47"/>
 <path d="M113,97 C122,93 130,91 137,86 C143,81 148,80 155,80 C160,79 164,77 168,74"/>
 <path d="M137,86 C140,80 142,76 146,70"/>
 <path d="M148,96 C152,92 156,90 162,92"/>
 <path d="M92,100 C98,98 104,100 110,103"/>
 <path d="M140,106 C146,112 150,118 150,126"/>
</g>
<g transform="translate(90.5,29) scale(1.04,1.05)" fill="none" stroke="#e4e4e4" stroke-width="1.1" stroke-dasharray="0.7 0.45">
 <use href="#ol"/>
</g>
<g fill="#fff" font-size="14" font-weight="bold" stroke="#555" stroke-width="0.3" stroke-opacity="0.5">
 <text x="117.5" y="62.1">AM</text>
 <text x="130.8" y="107.6">V1</text>
 <text x="103.3" y="112.6">M</text>
 <text x="154.9" y="126.2">P</text>
 <text transform="translate(115,90.5) rotate(-68)" x="0" y="0">PM</text>
 <text transform="translate(151.6,58.6) rotate(58)" x="0" y="0" font-size="15">RL</text>
 <text transform="translate(160.3,84) rotate(58)" x="0" y="0" font-size="15">LM</text>
 <text transform="translate(175.5,75.5) rotate(58)" x="0" y="0" font-size="14.5">AL</text>
</g>
<text x="109.5" y="148.6" font-size="10.6" class="t">1mm</text>
<line x1="109.9" y1="152.2" x2="132.8" y2="152.2" stroke="#333" stroke-width="1"/>

<!-- compass -->
<g stroke="#222" stroke-width="0.9" fill="#222">
 <line x1="198.5" y1="119.1" x2="222.5" y2="119.1"/>
 <line x1="210.9" y1="106" x2="210.9" y2="131.5" stroke="#777" stroke-width="1.4"/>
 <path d="M197.4,119.1 L201.5,116.6 L201.5,121.6Z" stroke="none"/>
 <path d="M223.4,119.1 L219.3,116.6 L219.3,121.6Z" stroke="none"/>
 <path d="M210.9,104.9 L208.4,109 L213.4,109Z" stroke="none"/>
 <path d="M210.9,132.4 L208.4,128.3 L213.4,128.3Z" stroke="none"/>
</g>
<g font-size="11" fill="#222">
 <text x="210.9" y="105.3" text-anchor="middle">A</text>
 <text x="185.1" y="122.4">M</text>
 <text x="224.5" y="122.4">L</text>
 <text x="210.9" y="143.8" text-anchor="middle">P</text>
</g>

<!-- ============ PANEL B ============ -->
<text class="lb" x="245.8" y="12.7">b</text>
<text x="297.4" y="31.7" font-size="11.9" text-anchor="middle" class="t">Texture</text>
<text x="402.4" y="31.7" font-size="12.1" text-anchor="middle" class="t">Scramble</text>
<g transform="translate(247.6,38)">
 <g clip-path="url(#cpH1)"><g filter="url(#blH)">
<rect x="-4" y="-4" width="107.4" height="113.2" fill="#130d25"/>
<path fill="#0e0b22" d="M-3 -3h9.6v3.6h-9.6zM-3 0h6.6v3.6h-6.6zM-3 3h6.6v3.6h-6.6zM-3 6h3.6v3.6h-3.6zM-3 9h3.6v3.6h-3.6zM-3 96h3.6v3.6h-3.6zM-3 99h3.6v3.6h-3.6zM-3 102h6.6v3.6h-6.6zM-3 105h9.6v3.6h-9.6zM-3 108h9.6v3.6h-9.6z"/>
<path fill="#100b23" d="M6 -3h21.6v3.6h-21.6zM96 -3h9.6v3.6h-9.6zM3 0h21.6v3.6h-21.6zM99 0h6.6v3.6h-6.6zM3 3h18.6v3.6h-18.6zM102 3h3.6v3.6h-3.6zM0 6h18.6v3.6h-18.6zM0 9h18.6v3.6h-18.6zM-3 12h18.6v3.6h-18.6zM-3 15h15.6v3.6h-15.6zM-3 18h15.6v3.6h-15.6zM-3 21h12.6v3.6h-12.6zM-3 24h12.6v3.6h-12.6zM-3 27h9.6v3.6h-9.6zM-3 30h9.6v3.6h-9.6zM-3 33h9.6v3.6h-9.6zM-3 36h6.6v3.6h-6.6zM-3 39h6.6v3.6h-6.6zM-3 42h6.6v3.6h-6.6zM-3 45h6.6v3.6h-6.6zM-3 48h6.6v3.6h-6.6zM-3 51h6.6v3.6h-6.6zM-3 54h6.6v3.6h-6.6zM-3 57h6.6v3.6h-6.6zM-3 60h6.6v3.6h-6.6zM-3 63h6.6v3.6h-6.6zM-3 66h6.6v3.6h-6.6zM-3 69h6.6v3.6h-6.6zM-3 72h9.6v3.6h-9.6zM-3 75h9.6v3.6h-9.6zM-3 78h9.6v3.6h-9.6zM-3 81h12.6v3.6h-12.6zM-3 84h12.6v3.6h-12.6zM-3 87h15.6v3.6h-15.6zM-3 90h15.6v3.6h-15.6zM-3 93h18.6v3.6h-18.6zM0 96h18.6v3.6h-18.6zM0 99h18.6v3.6h-18.6zM3 102h18.6v3.6h-18.6zM102 102h3.6v3.6h-3.6zM6 105h21.6v3.6h-21.6zM99 105h6.6v3.6h-6.6zM6 108h24.6v3.6h-24.6zM96 108h9.6v3.6h-9.6z"/>
<path fill="#140e26" d="M48 -3h30.6v3.6h-30.6zM42 0h15.6v3.6h-15.6zM69 0h15.6v3.6h-15.6zM36 3h12.6v3.6h-12.6zM81 3h9.6v3.6h-9.6zM33 6h9.6v3.6h-9.6zM84 6h9.6v3.6h-9.6zM30 9h6.6v3.6h-6.6zM90 9h6.6v3.6h-6.6zM27 12h6.6v3.6h-6.6zM93 12h6.6v3.6h-6.6zM24 15h6.6v3.6h-6.6zM96 15h3.6v3.6h-3.6zM21 18h6.6v3.6h-6.6zM96 18h6.6v3.6h-6.6zM21 21h3.6v3.6h-3.6zM99 21h6.6v3.6h-6.6zM18 24h6.6v3.6h-6.6zM102 24h3.6v3.6h-3.6zM15 27h6.6v3.6h-6.6zM102 27h3.6v3.6h-3.6zM15 30h6.6v3.6h-6.6zM102 30h3.6v3.6h-3.6zM15 33h3.6v3.6h-3.6zM12 36h6.6v3.6h-6.6zM12 39h6.6v3.6h-6.6zM12 42h3.6v3.6h-3.6zM12 45h3.6v3.6h-3.6zM12 48h3.6v3.6h-3.6zM12 51h3.6v3.6h-3.6zM12 54h3.6v3.6h-3.6zM12 57h3.6v3.6h-3.6zM12 60h3.6v3.6h-3.6zM12 63h3.6v3.6h-3.6zM12 66h6.6v3.6h-6.6zM12 69h6.6v3.6h-6.6zM15 72h3.6v3.6h-3.6zM15 75h6.6v3.6h-6.6zM102 75h3.6v3.6h-3.6zM18 78h3.6v3.6h-3.6zM102 78h3.6v3.6h-3.6zM18 81h6.6v3.6h-6.6zM99 81h6.6v3.6h-6.6zM21 84h3.6v3.6h-3.6zM99 84h6.6v3.6h-6.6zM21 87h6.6v3.6h-6.6zM96 87h6.6v3.6h-6.6zM24 90h6.6v3.6h-6.6zM93 90h6.6v3.6h-6.6zM27 93h6.6v3.6h-6.6zM93 93h6.6v3.6h-6.6zM30 96h6.6v3.6h-6.6zM87 96h9.6v3.6h-9.6zM33 99h9.6v3.6h-9.6zM84 99h9.6v3.6h-9.6zM39 102h9.6v3.6h-9.6zM78 102h9.6v3.6h-9.6zM42 105h42.6v3.6h-42.6zM51 108h24.6v3.6h-24.6z"/>
<path fill="#170f28" d="M57 0h12.6v3.6h-12.6zM48 3h9.6v3.6h-9.6zM69 3h12.6v3.6h-12.6zM42 6h6.6v3.6h-6.6zM78 6h6.6v3.6h-6.6zM36 9h6.6v3.6h-6.6zM84 9h6.6v3.6h-6.6zM33 12h3.6v3.6h-3.6zM87 12h6.6v3.6h-6.6zM30 15h3.6v3.6h-3.6zM90 15h6.6v3.6h-6.6zM27 18h3.6v3.6h-3.6zM93 18h3.6v3.6h-3.6zM24 21h6.6v3.6h-6.6zM96 21h3.6v3.6h-3.6zM24 24h3.6v3.6h-3.6zM99 24h3.6v3.6h-3.6zM21 27h3.6v3.6h-3.6zM99 27h3.6v3.6h-3.6zM21 30h3.6v3.6h-3.6zM18 33h3.6v3.6h-3.6zM102 33h3.6v3.6h-3.6zM18 36h3.6v3.6h-3.6zM102 36h3.6v3.6h-3.6zM18 39h3.6v3.6h-3.6zM102 39h3.6v3.6h-3.6zM15 42h3.6v3.6h-3.6zM15 45h3.6v3.6h-3.6zM15 48h3.6v3.6h-3.6zM15 51h3.6v3.6h-3.6zM15 54h3.6v3.6h-3.6zM15 57h3.6v3.6h-3.6zM15 60h3.6v3.6h-3.6zM15 63h3.6v3.6h-3.6zM18 66h3.6v3.6h-3.6zM102 66h3.6v3.6h-3.6zM18 69h3.6v3.6h-3.6zM102 69h3.6v3.6h-3.6zM18 72h3.6v3.6h-3.6zM102 72h3.6v3.6h-3.6zM21 75h3.6v3.6h-3.6zM99 75h3.6v3.6h-3.6zM21 78h3.6v3.6h-3.6zM99 78h3.6v3.6h-3.6zM24 81h3.6v3.6h-3.6zM96 81h3.6v3.6h-3.6zM24 84h6.6v3.6h-6.6zM96 84h3.6v3.6h-3.6zM27 87h3.6v3.6h-3.6zM93 87h3.6v3.6h-3.6zM30 90h3.6v3.6h-3.6zM90 90h3.6v3.6h-3.6zM33 93h6.6v3.6h-6.6zM87 93h6.6v3.6h-6.6zM36 96h6.6v3.6h-6.6zM84 96h3.6v3.6h-3.6zM42 99h6.6v3.6h-6.6zM78 99h6.6v3.6h-6.6zM48 102h30.6v3.6h-30.6z"/>
<path fill="#180f29" d="M57 3h12.6v3.6h-12.6zM48 6h6.6v3.6h-6.6zM72 6h6.6v3.6h-6.6zM42 9h3.6v3.6h-3.6zM81 9h3.6v3.6h-3.6zM36 12h6.6v3.6h-6.6zM84 12h3.6v3.6h-3.6zM33 15h3.6v3.6h-3.6zM87 15h3.6v3.6h-3.6zM30 18h3.6v3.6h-3.6zM90 18h3.6v3.6h-3.6zM93 21h3.6v3.6h-3.6zM27 24h3.6v3.6h-3.6zM96 24h3.6v3.6h-3.6zM24 27h3.6v3.6h-3.6zM96 27h3.6v3.6h-3.6zM24 30h3.6v3.6h-3.6zM99 30h3.6v3.6h-3.6zM21 33h3.6v3.6h-3.6zM99 33h3.6v3.6h-3.6zM21 36h3.6v3.6h-3.6zM18 42h3.6v3.6h-3.6zM102 42h3.6v3.6h-3.6zM18 45h3.6v3.6h-3.6zM102 45h3.6v3.6h-3.6zM18 48h3.6v3.6h-3.6zM102 48h3.6v3.6h-3.6zM18 51h3.6v3.6h-3.6zM102 51h3.6v3.6h-3.6zM18 54h3.6v3.6h-3.6zM102 54h3.6v3.6h-3.6zM18 57h3.6v3.6h-3.6zM102 57h3.6v3.6h-3.6zM18 60h3.6v3.6h-3.6zM102 60h3.6v3.6h-3.6zM18 63h3.6v3.6h-3.6zM102 63h3.6v3.6h-3.6zM21 69h3.6v3.6h-3.6zM21 72h3.6v3.6h-3.6zM99 72h3.6v3.6h-3.6zM24 75h3.6v3.6h-3.6zM24 78h3.6v3.6h-3.6zM96 78h3.6v3.6h-3.6zM27 81h3.6v3.6h-3.6zM30 84h3.6v3.6h-3.6zM93 84h3.6v3.6h-3.6zM30 87h3.6v3.6h-3.6zM90 87h3.6v3.6h-3.6zM33 90h6.6v3.6h-6.6zM87 90h3.6v3.6h-3.6zM39 93h3.6v3.6h-3.6zM84 93h3.6v3.6h-3.6zM42 96h6.6v3.6h-6.6zM78 96h6.6v3.6h-6.6zM48 99h9.6v3.6h-9.6zM69 99h9.6v3.6h-9.6z"/>
<path fill="#1b112b" d="M54 6h18.6v3.6h-18.6zM45 9h6.6v3.6h-6.6zM75 9h6.6v3.6h-6.6zM42 12h3.6v3.6h-3.6zM81 12h3.6v3.6h-3.6zM36 15h3.6v3.6h-3.6zM33 18h3.6v3.6h-3.6zM30 21h3.6v3.6h-3.6zM90 21h3.6v3.6h-3.6zM93 24h3.6v3.6h-3.6zM27 27h3.6v3.6h-3.6zM96 30h3.6v3.6h-3.6zM24 33h3.6v3.6h-3.6zM99 36h3.6v3.6h-3.6zM21 39h3.6v3.6h-3.6zM99 39h3.6v3.6h-3.6zM21 42h3.6v3.6h-3.6zM21 45h3.6v3.6h-3.6zM21 60h3.6v3.6h-3.6zM21 63h3.6v3.6h-3.6zM21 66h3.6v3.6h-3.6zM99 66h3.6v3.6h-3.6zM99 69h3.6v3.6h-3.6zM24 72h3.6v3.6h-3.6zM96 75h3.6v3.6h-3.6zM27 78h3.6v3.6h-3.6zM93 81h3.6v3.6h-3.6zM90 84h3.6v3.6h-3.6zM33 87h3.6v3.6h-3.6zM87 87h3.6v3.6h-3.6zM84 90h3.6v3.6h-3.6zM42 93h3.6v3.6h-3.6zM81 93h3.6v3.6h-3.6zM48 96h3.6v3.6h-3.6zM75 96h3.6v3.6h-3.6zM57 99h12.6v3.6h-12.6z"/>
<path fill="#1d112c" d="M51 9h6.6v3.6h-6.6zM72 9h3.6v3.6h-3.6zM45 12h3.6v3.6h-3.6zM78 12h3.6v3.6h-3.6zM39 15h3.6v3.6h-3.6zM84 15h3.6v3.6h-3.6zM36 18h3.6v3.6h-3.6zM87 18h3.6v3.6h-3.6zM33 21h3.6v3.6h-3.6zM30 24h3.6v3.6h-3.6zM93 27h3.6v3.6h-3.6zM27 30h3.6v3.6h-3.6zM96 33h3.6v3.6h-3.6zM24 36h3.6v3.6h-3.6zM99 42h3.6v3.6h-3.6zM99 45h3.6v3.6h-3.6zM21 48h3.6v3.6h-3.6zM99 48h3.6v3.6h-3.6zM21 51h3.6v3.6h-3.6zM99 51h3.6v3.6h-3.6zM21 54h3.6v3.6h-3.6zM99 54h3.6v3.6h-3.6zM21 57h3.6v3.6h-3.6zM99 57h3.6v3.6h-3.6zM99 60h3.6v3.6h-3.6zM99 63h3.6v3.6h-3.6zM24 69h3.6v3.6h-3.6zM96 72h3.6v3.6h-3.6zM27 75h3.6v3.6h-3.6zM93 78h3.6v3.6h-3.6zM30 81h3.6v3.6h-3.6zM33 84h3.6v3.6h-3.6zM36 87h3.6v3.6h-3.6zM39 90h3.6v3.6h-3.6zM45 93h3.6v3.6h-3.6zM78 93h3.6v3.6h-3.6zM51 96h9.6v3.6h-9.6zM69 96h6.6v3.6h-6.6z"/>
<path fill="#20122e" d="M57 9h15.6v3.6h-15.6zM48 12h3.6v3.6h-3.6zM75 12h3.6v3.6h-3.6zM42 15h3.6v3.6h-3.6zM81 15h3.6v3.6h-3.6zM84 18h3.6v3.6h-3.6zM87 21h3.6v3.6h-3.6zM90 24h3.6v3.6h-3.6zM30 27h3.6v3.6h-3.6zM93 30h3.6v3.6h-3.6zM27 33h3.6v3.6h-3.6zM96 36h3.6v3.6h-3.6zM24 39h3.6v3.6h-3.6zM24 42h3.6v3.6h-3.6zM24 63h3.6v3.6h-3.6zM24 66h3.6v3.6h-3.6zM96 69h3.6v3.6h-3.6zM27 72h3.6v3.6h-3.6zM93 75h3.6v3.6h-3.6zM30 78h3.6v3.6h-3.6zM33 81h3.6v3.6h-3.6zM90 81h3.6v3.6h-3.6zM87 84h3.6v3.6h-3.6zM39 87h3.6v3.6h-3.6zM84 87h3.6v3.6h-3.6zM42 90h3.6v3.6h-3.6zM81 90h3.6v3.6h-3.6zM48 93h3.6v3.6h-3.6zM75 93h3.6v3.6h-3.6zM60 96h9.6v3.6h-9.6z"/>
<path fill="#221331" d="M51 12h3.6v3.6h-3.6zM72 12h3.6v3.6h-3.6zM45 15h3.6v3.6h-3.6zM39 18h3.6v3.6h-3.6zM36 21h3.6v3.6h-3.6zM33 24h3.6v3.6h-3.6zM90 27h3.6v3.6h-3.6zM30 30h3.6v3.6h-3.6zM27 36h3.6v3.6h-3.6zM96 39h3.6v3.6h-3.6zM96 42h3.6v3.6h-3.6zM24 45h3.6v3.6h-3.6zM24 48h3.6v3.6h-3.6zM24 51h3.6v3.6h-3.6zM24 54h3.6v3.6h-3.6zM24 57h3.6v3.6h-3.6zM24 60h3.6v3.6h-3.6zM96 63h3.6v3.6h-3.6zM96 66h3.6v3.6h-3.6zM27 69h3.6v3.6h-3.6zM93 72h3.6v3.6h-3.6zM30 75h3.6v3.6h-3.6zM90 78h3.6v3.6h-3.6zM36 84h3.6v3.6h-3.6zM45 90h3.6v3.6h-3.6zM78 90h3.6v3.6h-3.6zM51 93h6.6v3.6h-6.6zM72 93h3.6v3.6h-3.6z"/>
<path fill="#241432" d="M54 12h3.6v3.6h-3.6zM69 12h3.6v3.6h-3.6zM78 15h3.6v3.6h-3.6zM42 18h3.6v3.6h-3.6zM81 18h3.6v3.6h-3.6zM87 24h3.6v3.6h-3.6zM33 27h3.6v3.6h-3.6zM93 33h3.6v3.6h-3.6zM27 39h3.6v3.6h-3.6zM96 45h3.6v3.6h-3.6zM96 48h3.6v3.6h-3.6zM96 57h3.6v3.6h-3.6zM96 60h3.6v3.6h-3.6zM27 66h3.6v3.6h-3.6zM33 78h3.6v3.6h-3.6zM87 81h3.6v3.6h-3.6zM84 84h3.6v3.6h-3.6zM42 87h3.6v3.6h-3.6zM81 87h3.6v3.6h-3.6zM48 90h3.6v3.6h-3.6zM57 93h6.6v3.6h-6.6zM66 93h6.6v3.6h-6.6z"/>
<path fill="#271534" d="M57 12h12.6v3.6h-12.6zM48 15h3.6v3.6h-3.6zM75 15h3.6v3.6h-3.6zM39 21h3.6v3.6h-3.6zM84 21h3.6v3.6h-3.6zM36 24h3.6v3.6h-3.6zM90 30h3.6v3.6h-3.6zM30 33h3.6v3.6h-3.6zM93 36h3.6v3.6h-3.6zM27 42h3.6v3.6h-3.6zM96 51h3.6v3.6h-3.6zM96 54h3.6v3.6h-3.6zM27 63h3.6v3.6h-3.6zM93 69h3.6v3.6h-3.6zM30 72h3.6v3.6h-3.6zM90 75h3.6v3.6h-3.6zM36 81h3.6v3.6h-3.6zM39 84h3.6v3.6h-3.6zM75 90h3.6v3.6h-3.6zM63 93h3.6v3.6h-3.6z"/>
<path fill="#281535" d="M51 15h3.6v3.6h-3.6zM45 18h3.6v3.6h-3.6zM78 18h3.6v3.6h-3.6zM87 27h3.6v3.6h-3.6zM33 30h3.6v3.6h-3.6zM93 39h3.6v3.6h-3.6zM27 45h3.6v3.6h-3.6zM27 60h3.6v3.6h-3.6zM93 66h3.6v3.6h-3.6zM33 75h3.6v3.6h-3.6zM87 78h3.6v3.6h-3.6zM45 87h3.6v3.6h-3.6zM78 87h3.6v3.6h-3.6zM51 90h3.6v3.6h-3.6zM72 90h3.6v3.6h-3.6z"/>
<path fill="#2b1637" d="M54 15h3.6v3.6h-3.6zM72 15h3.6v3.6h-3.6zM42 21h3.6v3.6h-3.6zM81 21h3.6v3.6h-3.6zM84 24h3.6v3.6h-3.6zM36 27h3.6v3.6h-3.6zM90 33h3.6v3.6h-3.6zM30 36h3.6v3.6h-3.6zM93 42h3.6v3.6h-3.6zM27 48h3.6v3.6h-3.6zM27 51h3.6v3.6h-3.6zM27 54h3.6v3.6h-3.6zM27 57h3.6v3.6h-3.6zM93 63h3.6v3.6h-3.6zM30 69h3.6v3.6h-3.6zM90 72h3.6v3.6h-3.6zM36 78h3.6v3.6h-3.6zM39 81h3.6v3.6h-3.6zM84 81h3.6v3.6h-3.6zM42 84h3.6v3.6h-3.6zM81 84h3.6v3.6h-3.6zM54 90h3.6v3.6h-3.6zM69 90h3.6v3.6h-3.6z"/>
<path fill="#2d1738" d="M57 15h3.6v3.6h-3.6zM69 15h3.6v3.6h-3.6zM48 18h3.6v3.6h-3.6zM39 24h3.6v3.6h-3.6zM30 39h3.6v3.6h-3.6zM93 45h3.6v3.6h-3.6zM93 60h3.6v3.6h-3.6zM30 66h3.6v3.6h-3.6zM48 87h3.6v3.6h-3.6zM75 87h3.6v3.6h-3.6zM57 90h12.6v3.6h-12.6z"/>
<path fill="#30173a" d="M60 15h9.6v3.6h-9.6zM75 18h3.6v3.6h-3.6zM87 30h3.6v3.6h-3.6zM33 33h3.6v3.6h-3.6zM90 36h3.6v3.6h-3.6zM93 48h3.6v3.6h-3.6zM93 51h3.6v3.6h-3.6zM93 54h3.6v3.6h-3.6zM93 57h3.6v3.6h-3.6zM90 69h3.6v3.6h-3.6zM33 72h3.6v3.6h-3.6zM87 75h3.6v3.6h-3.6zM45 84h3.6v3.6h-3.6z"/>
<path fill="#31183b" d="M51 18h3.6v3.6h-3.6zM45 21h3.6v3.6h-3.6zM78 21h3.6v3.6h-3.6zM84 27h3.6v3.6h-3.6zM36 30h3.6v3.6h-3.6zM30 42h3.6v3.6h-3.6zM30 63h3.6v3.6h-3.6zM36 75h3.6v3.6h-3.6zM84 78h3.6v3.6h-3.6zM42 81h3.6v3.6h-3.6zM81 81h3.6v3.6h-3.6zM78 84h3.6v3.6h-3.6zM51 87h3.6v3.6h-3.6zM72 87h3.6v3.6h-3.6z"/>
<path fill="#35193e" d="M54 18h3.6v3.6h-3.6zM69 18h3.6v3.6h-3.6zM48 21h3.6v3.6h-3.6zM87 33h3.6v3.6h-3.6zM30 48h3.6v3.6h-3.6zM30 51h3.6v3.6h-3.6zM30 54h3.6v3.6h-3.6zM30 57h3.6v3.6h-3.6zM87 72h3.6v3.6h-3.6zM48 84h3.6v3.6h-3.6zM57 87h3.6v3.6h-3.6zM69 87h3.6v3.6h-3.6z"/>
<path fill="#381a40" d="M57 18h3.6v3.6h-3.6zM66 18h3.6v3.6h-3.6zM75 21h3.6v3.6h-3.6zM36 33h3.6v3.6h-3.6zM33 39h3.6v3.6h-3.6zM90 42h3.6v3.6h-3.6zM90 63h3.6v3.6h-3.6zM33 66h3.6v3.6h-3.6zM36 72h3.6v3.6h-3.6zM75 84h3.6v3.6h-3.6zM60 87h9.6v3.6h-9.6z"/>
<path fill="#3a1a41" d="M60 18h6.6v3.6h-6.6zM45 24h3.6v3.6h-3.6zM84 30h3.6v3.6h-3.6zM90 45h3.6v3.6h-3.6zM90 60h3.6v3.6h-3.6zM39 75h3.6v3.6h-3.6zM84 75h3.6v3.6h-3.6zM45 81h3.6v3.6h-3.6zM78 81h3.6v3.6h-3.6zM51 84h3.6v3.6h-3.6z"/>
<path fill="#34193d" d="M72 18h3.6v3.6h-3.6zM42 24h3.6v3.6h-3.6zM81 24h3.6v3.6h-3.6zM39 27h3.6v3.6h-3.6zM33 36h3.6v3.6h-3.6zM90 39h3.6v3.6h-3.6zM30 45h3.6v3.6h-3.6zM30 60h3.6v3.6h-3.6zM90 66h3.6v3.6h-3.6zM33 69h3.6v3.6h-3.6zM39 78h3.6v3.6h-3.6zM54 87h3.6v3.6h-3.6z"/>
<path fill="#3d1a42" d="M51 21h3.6v3.6h-3.6zM78 24h3.6v3.6h-3.6zM42 27h3.6v3.6h-3.6zM81 27h3.6v3.6h-3.6zM39 30h3.6v3.6h-3.6zM87 36h3.6v3.6h-3.6zM33 42h3.6v3.6h-3.6zM90 48h3.6v3.6h-3.6zM90 57h3.6v3.6h-3.6zM33 63h3.6v3.6h-3.6zM87 69h3.6v3.6h-3.6zM42 78h3.6v3.6h-3.6zM81 78h3.6v3.6h-3.6zM72 84h3.6v3.6h-3.6z"/>
<path fill="#421b45" d="M54 21h3.6v3.6h-3.6zM87 39h3.6v3.6h-3.6zM33 45h3.6v3.6h-3.6zM33 60h3.6v3.6h-3.6zM87 66h3.6v3.6h-3.6zM48 81h3.6v3.6h-3.6zM54 84h3.6v3.6h-3.6zM69 84h3.6v3.6h-3.6z"/>
<path fill="#461c48" d="M57 21h3.6v3.6h-3.6zM45 27h3.6v3.6h-3.6zM39 33h3.6v3.6h-3.6zM36 39h3.6v3.6h-3.6zM33 51h3.6v3.6h-3.6zM33 54h3.6v3.6h-3.6zM36 66h3.6v3.6h-3.6zM42 75h3.6v3.6h-3.6zM81 75h3.6v3.6h-3.6zM45 78h3.6v3.6h-3.6zM78 78h3.6v3.6h-3.6zM60 84h3.6v3.6h-3.6zM66 84h3.6v3.6h-3.6z"/>
<path fill="#491d49" d="M60 21h9.6v3.6h-9.6zM78 27h3.6v3.6h-3.6zM42 30h3.6v3.6h-3.6zM81 30h3.6v3.6h-3.6zM87 42h3.6v3.6h-3.6zM87 63h3.6v3.6h-3.6zM63 84h3.6v3.6h-3.6z"/>
<path fill="#451c47" d="M69 21h3.6v3.6h-3.6zM48 24h3.6v3.6h-3.6zM75 24h3.6v3.6h-3.6zM84 33h3.6v3.6h-3.6zM33 48h3.6v3.6h-3.6zM33 57h3.6v3.6h-3.6zM39 72h3.6v3.6h-3.6zM84 72h3.6v3.6h-3.6zM75 81h3.6v3.6h-3.6zM57 84h3.6v3.6h-3.6z"/>
<path fill="#401b44" d="M72 21h3.6v3.6h-3.6zM36 36h3.6v3.6h-3.6zM90 51h3.6v3.6h-3.6zM90 54h3.6v3.6h-3.6zM36 69h3.6v3.6h-3.6z"/>
<path fill="#4b1d4a" d="M51 24h3.6v3.6h-3.6zM51 81h3.6v3.6h-3.6z"/>
<path fill="#531e4d" d="M54 24h3.6v3.6h-3.6zM48 27h3.6v3.6h-3.6zM36 45h3.6v3.6h-3.6zM87 48h3.6v3.6h-3.6zM87 51h3.6v3.6h-3.6zM87 54h3.6v3.6h-3.6zM87 57h3.6v3.6h-3.6zM36 60h3.6v3.6h-3.6zM81 72h3.6v3.6h-3.6zM75 78h3.6v3.6h-3.6z"/>
<path fill="#581e4f" d="M57 24h3.6v3.6h-3.6zM78 30h3.6v3.6h-3.6zM36 48h3.6v3.6h-3.6zM36 57h3.6v3.6h-3.6zM84 66h3.6v3.6h-3.6zM57 81h3.6v3.6h-3.6z"/>
<path fill="#5c1e51" d="M60 24h6.6v3.6h-6.6zM51 27h3.6v3.6h-3.6zM51 78h3.6v3.6h-3.6z"/>
<path fill="#591e50" d="M66 24h3.6v3.6h-3.6zM39 39h3.6v3.6h-3.6zM36 51h3.6v3.6h-3.6zM36 54h3.6v3.6h-3.6zM39 66h3.6v3.6h-3.6zM60 81h9.6v3.6h-9.6z"/>
<path fill="#541e4e" d="M69 24h3.6v3.6h-3.6zM75 27h3.6v3.6h-3.6zM45 30h3.6v3.6h-3.6zM42 33h3.6v3.6h-3.6zM81 33h3.6v3.6h-3.6zM84 39h3.6v3.6h-3.6zM42 72h3.6v3.6h-3.6zM45 75h3.6v3.6h-3.6zM78 75h3.6v3.6h-3.6zM69 81h3.6v3.6h-3.6z"/>
<path fill="#4e1d4b" d="M72 24h3.6v3.6h-3.6zM84 36h3.6v3.6h-3.6zM36 42h3.6v3.6h-3.6zM87 45h3.6v3.6h-3.6zM87 60h3.6v3.6h-3.6zM36 63h3.6v3.6h-3.6zM84 69h3.6v3.6h-3.6zM72 81h3.6v3.6h-3.6z"/>
<path fill="#661f54" d="M54 27h3.6v3.6h-3.6zM75 30h3.6v3.6h-3.6zM78 33h3.6v3.6h-3.6zM84 45h3.6v3.6h-3.6zM84 60h3.6v3.6h-3.6zM78 72h3.6v3.6h-3.6zM75 75h3.6v3.6h-3.6z"/>
<path fill="#6e1f57" d="M57 27h3.6v3.6h-3.6zM42 39h3.6v3.6h-3.6zM81 39h3.6v3.6h-3.6zM39 48h3.6v3.6h-3.6zM84 51h3.6v3.6h-3.6zM84 54h3.6v3.6h-3.6zM42 66h3.6v3.6h-3.6zM81 66h3.6v3.6h-3.6z"/>
<path fill="#731f58" d="M60 27h6.6v3.6h-6.6zM39 51h3.6v3.6h-3.6zM39 54h3.6v3.6h-3.6zM63 78h3.6v3.6h-3.6z"/>
<path fill="#701f57" d="M66 27h3.6v3.6h-3.6zM51 30h3.6v3.6h-3.6zM39 57h3.6v3.6h-3.6zM51 75h3.6v3.6h-3.6zM60 78h3.6v3.6h-3.6zM66 78h3.6v3.6h-3.6z"/>
<path fill="#691f55" d="M69 27h3.6v3.6h-3.6zM39 45h3.6v3.6h-3.6zM39 60h3.6v3.6h-3.6zM69 78h3.6v3.6h-3.6z"/>
<path fill="#611f53" d="M72 27h3.6v3.6h-3.6zM42 36h3.6v3.6h-3.6zM81 36h3.6v3.6h-3.6zM39 42h3.6v3.6h-3.6zM39 63h3.6v3.6h-3.6zM42 69h3.6v3.6h-3.6zM81 69h3.6v3.6h-3.6z"/>
<path fill="#641f54" d="M48 30h3.6v3.6h-3.6zM45 33h3.6v3.6h-3.6zM45 72h3.6v3.6h-3.6zM48 75h3.6v3.6h-3.6zM54 78h3.6v3.6h-3.6z"/>
<path fill="#7d1f5a" d="M54 30h3.6v3.6h-3.6zM54 75h3.6v3.6h-3.6z"/>
<path fill="#871e5b" d="M57 30h3.6v3.6h-3.6zM51 33h3.6v3.6h-3.6zM78 39h3.6v3.6h-3.6zM78 66h3.6v3.6h-3.6zM51 72h3.6v3.6h-3.6z"/>
<path fill="#8c1d5b" d="M60 30h3.6v3.6h-3.6zM72 33h3.6v3.6h-3.6zM42 57h3.6v3.6h-3.6zM72 72h3.6v3.6h-3.6zM60 75h6.6v3.6h-6.6z"/>
<path fill="#901d5b" d="M63 30h3.6v3.6h-3.6zM75 36h3.6v3.6h-3.6zM42 51h3.6v3.6h-3.6zM81 51h3.6v3.6h-3.6zM42 54h3.6v3.6h-3.6zM81 54h3.6v3.6h-3.6zM75 69h3.6v3.6h-3.6z"/>
<path fill="#8b1d5b" d="M66 30h3.6v3.6h-3.6zM48 36h3.6v3.6h-3.6zM42 48h3.6v3.6h-3.6zM81 48h3.6v3.6h-3.6zM81 57h3.6v3.6h-3.6zM48 69h3.6v3.6h-3.6zM66 75h3.6v3.6h-3.6z"/>
<path fill="#821e5a" d="M69 30h3.6v3.6h-3.6zM81 45h3.6v3.6h-3.6z"/>
<path fill="#751f58" d="M72 30h3.6v3.6h-3.6zM48 33h3.6v3.6h-3.6zM45 36h3.6v3.6h-3.6zM45 69h3.6v3.6h-3.6zM48 72h3.6v3.6h-3.6zM72 75h3.6v3.6h-3.6z"/>
<path fill="#971c5b" d="M54 33h3.6v3.6h-3.6zM78 42h3.6v3.6h-3.6zM78 63h3.6v3.6h-3.6zM54 72h3.6v3.6h-3.6z"/>
<path fill="#a11a5b" d="M57 33h3.6v3.6h-3.6zM45 45h3.6v3.6h-3.6zM45 60h3.6v3.6h-3.6zM57 72h3.6v3.6h-3.6z"/>
<path fill="#aa185a" d="M60 33h3.6v3.6h-3.6zM45 48h3.6v3.6h-3.6zM60 72h3.6v3.6h-3.6z"/>
<path fill="#ad1759" d="M63 33h3.6v3.6h-3.6zM45 57h3.6v3.6h-3.6zM63 72h3.6v3.6h-3.6z"/>
<path fill="#a6195a" d="M66 33h3.6v3.6h-3.6zM72 36h3.6v3.6h-3.6zM66 72h3.6v3.6h-3.6z"/>
<path fill="#9c1b5b" d="M69 33h3.6v3.6h-3.6zM69 72h3.6v3.6h-3.6z"/>
<path fill="#7a1f59" d="M75 33h3.6v3.6h-3.6zM42 42h3.6v3.6h-3.6zM81 42h3.6v3.6h-3.6zM42 63h3.6v3.6h-3.6zM81 63h3.6v3.6h-3.6zM75 72h3.6v3.6h-3.6z"/>
<path fill="#501d4c" d="M39 36h3.6v3.6h-3.6zM39 69h3.6v3.6h-3.6zM48 78h3.6v3.6h-3.6zM54 81h3.6v3.6h-3.6z"/>
<path fill="#9f1a5b" d="M51 36h3.6v3.6h-3.6zM48 39h3.6v3.6h-3.6zM48 66h3.6v3.6h-3.6zM51 69h3.6v3.6h-3.6z"/>
<path fill="#b21758" d="M54 36h3.6v3.6h-3.6zM48 42h3.6v3.6h-3.6zM78 51h3.6v3.6h-3.6zM48 63h3.6v3.6h-3.6zM54 69h3.6v3.6h-3.6z"/>
<path fill="#bd1655" d="M57 36h3.6v3.6h-3.6zM72 39h3.6v3.6h-3.6zM72 66h3.6v3.6h-3.6zM57 69h3.6v3.6h-3.6z"/>
<path fill="#c71951" d="M60 36h3.6v3.6h-3.6zM60 69h6.6v3.6h-6.6z"/>
<path fill="#ca1a50" d="M63 36h3.6v3.6h-3.6zM54 39h3.6v3.6h-3.6zM51 42h3.6v3.6h-3.6zM48 48h3.6v3.6h-3.6zM48 57h3.6v3.6h-3.6zM51 63h3.6v3.6h-3.6zM54 66h3.6v3.6h-3.6z"/>
<path fill="#c51852" d="M66 36h3.6v3.6h-3.6zM75 45h3.6v3.6h-3.6zM75 60h3.6v3.6h-3.6z"/>
<path fill="#b91657" d="M69 36h3.6v3.6h-3.6zM69 69h3.6v3.6h-3.6z"/>
<path fill="#781f59" d="M78 36h3.6v3.6h-3.6zM78 69h3.6v3.6h-3.6z"/>
<path fill="#861e5b" d="M45 39h3.6v3.6h-3.6zM42 45h3.6v3.6h-3.6zM42 60h3.6v3.6h-3.6zM81 60h3.6v3.6h-3.6zM45 66h3.6v3.6h-3.6zM57 75h3.6v3.6h-3.6z"/>
<path fill="#b71657" d="M51 39h3.6v3.6h-3.6zM75 42h3.6v3.6h-3.6zM75 63h3.6v3.6h-3.6zM51 66h3.6v3.6h-3.6z"/>
<path fill="#d62449" d="M57 39h3.6v3.6h-3.6zM57 66h3.6v3.6h-3.6z"/>
<path fill="#dd2c45" d="M60 39h3.6v3.6h-3.6zM72 45h3.6v3.6h-3.6zM72 60h3.6v3.6h-3.6zM60 66h3.6v3.6h-3.6z"/>
<path fill="#df2f44" d="M63 39h3.6v3.6h-3.6zM51 48h3.6v3.6h-3.6zM63 66h3.6v3.6h-3.6z"/>
<path fill="#dc2b46" d="M66 39h3.6v3.6h-3.6zM54 42h3.6v3.6h-3.6zM54 63h3.6v3.6h-3.6zM66 66h3.6v3.6h-3.6z"/>
<path fill="#d11f4c" d="M69 39h3.6v3.6h-3.6zM72 42h3.6v3.6h-3.6zM72 63h3.6v3.6h-3.6zM69 66h3.6v3.6h-3.6z"/>
<path fill="#a4195b" d="M75 39h3.6v3.6h-3.6zM78 45h3.6v3.6h-3.6zM78 60h3.6v3.6h-3.6zM75 66h3.6v3.6h-3.6zM72 69h3.6v3.6h-3.6z"/>
<path fill="#951c5b" d="M45 42h3.6v3.6h-3.6zM45 63h3.6v3.6h-3.6z"/>
<path fill="#e73d3f" d="M57 42h3.6v3.6h-3.6zM54 45h3.6v3.6h-3.6zM57 63h3.6v3.6h-3.6z"/>
<path fill="#eb483e" d="M60 42h3.6v3.6h-3.6zM69 45h3.6v3.6h-3.6zM69 60h3.6v3.6h-3.6zM60 63h3.6v3.6h-3.6z"/>
<path fill="#ec4a3e" d="M63 42h3.6v3.6h-3.6zM63 63h3.6v3.6h-3.6z"/>
<path fill="#ea443e" d="M66 42h3.6v3.6h-3.6zM66 63h3.6v3.6h-3.6z"/>
<path fill="#e03143" d="M69 42h3.6v3.6h-3.6zM51 57h3.6v3.6h-3.6z"/>
<path fill="#5e1f52" d="M84 42h3.6v3.6h-3.6zM84 63h3.6v3.6h-3.6zM72 78h3.6v3.6h-3.6z"/>
<path fill="#c11754" d="M48 45h3.6v3.6h-3.6zM48 60h3.6v3.6h-3.6z"/>
<path fill="#d82748" d="M51 45h3.6v3.6h-3.6zM51 60h3.6v3.6h-3.6z"/>
<path fill="#ee543f" d="M57 45h3.6v3.6h-3.6zM57 60h3.6v3.6h-3.6z"/>
<path fill="#f16445" d="M60 45h3.6v3.6h-3.6zM69 51h3.6v3.6h-3.6zM69 54h3.6v3.6h-3.6zM60 60h3.6v3.6h-3.6z"/>
<path fill="#f16646" d="M63 45h3.6v3.6h-3.6zM57 48h3.6v3.6h-3.6zM57 57h3.6v3.6h-3.6zM63 60h3.6v3.6h-3.6z"/>
<path fill="#f05c42" d="M66 45h3.6v3.6h-3.6zM66 60h3.6v3.6h-3.6z"/>
<path fill="#ed4e3e" d="M54 48h3.6v3.6h-3.6zM54 57h3.6v3.6h-3.6z"/>
<path fill="#f37450" d="M60 48h3.6v3.6h-3.6zM60 57h3.6v3.6h-3.6z"/>
<path fill="#f37651" d="M63 48h3.6v3.6h-3.6zM66 51h3.6v3.6h-3.6zM66 54h3.6v3.6h-3.6zM63 57h3.6v3.6h-3.6z"/>
<path fill="#f26f4c" d="M66 48h3.6v3.6h-3.6zM57 51h3.6v3.6h-3.6zM57 54h3.6v3.6h-3.6zM66 57h3.6v3.6h-3.6z"/>
<path fill="#ef5a41" d="M69 48h3.6v3.6h-3.6zM69 57h3.6v3.6h-3.6z"/>
<path fill="#e53940" d="M72 48h3.6v3.6h-3.6zM72 57h3.6v3.6h-3.6z"/>
<path fill="#ce1d4e" d="M75 48h3.6v3.6h-3.6zM48 51h3.6v3.6h-3.6zM48 54h3.6v3.6h-3.6zM75 57h3.6v3.6h-3.6z"/>
<path fill="#af1759" d="M78 48h3.6v3.6h-3.6zM45 51h3.6v3.6h-3.6zM45 54h3.6v3.6h-3.6zM78 57h3.6v3.6h-3.6z"/>
<path fill="#6b1f56" d="M84 48h3.6v3.6h-3.6zM84 57h3.6v3.6h-3.6zM57 78h3.6v3.6h-3.6z"/>
<path fill="#e33641" d="M51 51h3.6v3.6h-3.6zM51 54h3.6v3.6h-3.6z"/>
<path fill="#ef5640" d="M54 51h3.6v3.6h-3.6zM54 54h3.6v3.6h-3.6z"/>
<path fill="#f47c55" d="M60 51h3.6v3.6h-3.6zM60 54h3.6v3.6h-3.6z"/>
<path fill="#f47f58" d="M63 51h3.6v3.6h-3.6zM63 54h3.6v3.6h-3.6z"/>
<path fill="#e9423e" d="M72 51h3.6v3.6h-3.6zM72 54h3.6v3.6h-3.6z"/>
<path fill="#d5224a" d="M75 51h3.6v3.6h-3.6zM75 54h3.6v3.6h-3.6z"/>
<path fill="#b41658" d="M78 54h3.6v3.6h-3.6z"/>
<path fill="#e83f3f" d="M54 60h3.6v3.6h-3.6z"/>
<path fill="#e23442" d="M69 63h3.6v3.6h-3.6z"/>
<path fill="#c21753" d="M66 69h3.6v3.6h-3.6z"/>
<path fill="#7f1e5a" d="M69 75h3.6v3.6h-3.6z"/>
</g></g>
 <g fill="none" stroke="#dcdcdc" stroke-width="0.95" stroke-dasharray="0.8 0.35"><use href="#ol"/></g>
 <g fill="none" stroke="#2f7cc0" stroke-width="2.2" stroke-linejoin="round">
  <path d="M51.1,36.4 L55.5,37.5 L59.9,43 L64.4,49.6 L67.7,55.1 L71,60.6 L74.3,67.3 L75.4,71.7 L73.2,76.1 L66.6,76.8 L57.7,75 L52.2,69.5 L48.9,59.5 L46.7,46.3 L47.8,39.7Z"/>
  <path d="M67.7,50.7 L69.9,49.6 L74.3,48.5 L76.5,49.6 L76.5,55.1 L78.7,60.6 L79.8,66.2 L77.6,68.4 L74.3,68.4 L72.1,64 L69.9,58.4 L67.7,52.9Z"/>
 </g>
</g>
<g transform="translate(353,38)">
 <g clip-path="url(#cpH2)"><g filter="url(#blH)">
<rect x="-4" y="-4" width="107.5" height="113.2" fill="#0e0b22"/>
<path fill="#100b23" d="M30 -3h12.6v3.6h-12.6zM78 -3h9.6v3.6h-9.6zM27 0h12.6v3.6h-12.6zM81 0h9.6v3.6h-9.6zM24 3h9.6v3.6h-9.6zM84 3h6.6v3.6h-6.6zM21 6h9.6v3.6h-9.6zM84 6h9.6v3.6h-9.6zM21 9h6.6v3.6h-6.6zM87 9h6.6v3.6h-6.6zM18 12h9.6v3.6h-9.6zM90 12h6.6v3.6h-6.6zM15 15h9.6v3.6h-9.6zM90 15h6.6v3.6h-6.6zM15 18h6.6v3.6h-6.6zM93 18h6.6v3.6h-6.6zM12 21h9.6v3.6h-9.6zM93 21h6.6v3.6h-6.6zM12 24h6.6v3.6h-6.6zM93 24h6.6v3.6h-6.6zM12 27h6.6v3.6h-6.6zM96 27h3.6v3.6h-3.6zM9 30h6.6v3.6h-6.6zM96 30h6.6v3.6h-6.6zM9 33h6.6v3.6h-6.6zM96 33h6.6v3.6h-6.6zM9 36h6.6v3.6h-6.6zM99 36h3.6v3.6h-3.6zM6 39h9.6v3.6h-9.6zM99 39h3.6v3.6h-3.6zM6 42h6.6v3.6h-6.6zM99 42h3.6v3.6h-3.6zM6 45h6.6v3.6h-6.6zM99 45h6.6v3.6h-6.6zM6 48h6.6v3.6h-6.6zM99 48h6.6v3.6h-6.6zM6 51h6.6v3.6h-6.6zM99 51h6.6v3.6h-6.6zM6 54h6.6v3.6h-6.6zM99 54h6.6v3.6h-6.6zM6 57h6.6v3.6h-6.6zM99 57h6.6v3.6h-6.6zM6 60h6.6v3.6h-6.6zM99 60h6.6v3.6h-6.6zM6 63h6.6v3.6h-6.6zM99 63h6.6v3.6h-6.6zM6 66h6.6v3.6h-6.6zM99 66h6.6v3.6h-6.6zM6 69h6.6v3.6h-6.6zM99 69h6.6v3.6h-6.6zM6 72h6.6v3.6h-6.6zM99 72h3.6v3.6h-3.6zM6 75h9.6v3.6h-9.6zM99 75h3.6v3.6h-3.6zM9 78h6.6v3.6h-6.6zM96 78h6.6v3.6h-6.6zM9 81h6.6v3.6h-6.6zM96 81h6.6v3.6h-6.6zM9 84h9.6v3.6h-9.6zM96 84h6.6v3.6h-6.6zM12 87h6.6v3.6h-6.6zM96 87h3.6v3.6h-3.6zM12 90h9.6v3.6h-9.6zM93 90h6.6v3.6h-6.6zM15 93h6.6v3.6h-6.6zM93 93h6.6v3.6h-6.6zM15 96h9.6v3.6h-9.6zM90 96h6.6v3.6h-6.6zM18 99h9.6v3.6h-9.6zM90 99h6.6v3.6h-6.6zM21 102h9.6v3.6h-9.6zM87 102h6.6v3.6h-6.6zM24 105h9.6v3.6h-9.6zM84 105h9.6v3.6h-9.6zM24 108h12.6v3.6h-12.6zM81 108h9.6v3.6h-9.6z"/>
<path fill="#130d25" d="M42 -3h12.6v3.6h-12.6zM69 -3h9.6v3.6h-9.6zM39 0h6.6v3.6h-6.6zM75 0h6.6v3.6h-6.6zM33 3h9.6v3.6h-9.6zM78 3h6.6v3.6h-6.6zM30 6h6.6v3.6h-6.6zM81 6h3.6v3.6h-3.6zM27 9h6.6v3.6h-6.6zM84 9h3.6v3.6h-3.6zM27 12h3.6v3.6h-3.6zM87 12h3.6v3.6h-3.6zM24 15h3.6v3.6h-3.6zM87 15h3.6v3.6h-3.6zM21 18h6.6v3.6h-6.6zM90 18h3.6v3.6h-3.6zM21 21h3.6v3.6h-3.6zM90 21h3.6v3.6h-3.6zM18 24h6.6v3.6h-6.6zM18 27h3.6v3.6h-3.6zM93 27h3.6v3.6h-3.6zM15 30h6.6v3.6h-6.6zM93 30h3.6v3.6h-3.6zM15 33h3.6v3.6h-3.6zM93 33h3.6v3.6h-3.6zM15 36h3.6v3.6h-3.6zM96 36h3.6v3.6h-3.6zM15 39h3.6v3.6h-3.6zM96 39h3.6v3.6h-3.6zM12 42h6.6v3.6h-6.6zM96 42h3.6v3.6h-3.6zM12 45h3.6v3.6h-3.6zM96 45h3.6v3.6h-3.6zM12 48h3.6v3.6h-3.6zM96 48h3.6v3.6h-3.6zM12 51h3.6v3.6h-3.6zM96 51h3.6v3.6h-3.6zM12 54h3.6v3.6h-3.6zM96 54h3.6v3.6h-3.6zM12 57h3.6v3.6h-3.6zM96 57h3.6v3.6h-3.6zM12 60h3.6v3.6h-3.6zM96 60h3.6v3.6h-3.6zM12 63h3.6v3.6h-3.6zM96 63h3.6v3.6h-3.6zM12 66h3.6v3.6h-3.6zM96 66h3.6v3.6h-3.6zM12 69h3.6v3.6h-3.6zM96 69h3.6v3.6h-3.6zM12 72h6.6v3.6h-6.6zM96 72h3.6v3.6h-3.6zM15 75h3.6v3.6h-3.6zM96 75h3.6v3.6h-3.6zM15 78h3.6v3.6h-3.6zM15 81h3.6v3.6h-3.6zM93 81h3.6v3.6h-3.6zM18 84h3.6v3.6h-3.6zM93 84h3.6v3.6h-3.6zM18 87h3.6v3.6h-3.6zM93 87h3.6v3.6h-3.6zM21 90h3.6v3.6h-3.6zM90 90h3.6v3.6h-3.6zM21 93h6.6v3.6h-6.6zM90 93h3.6v3.6h-3.6zM24 96h3.6v3.6h-3.6zM87 96h3.6v3.6h-3.6zM27 99h3.6v3.6h-3.6zM87 99h3.6v3.6h-3.6zM30 102h3.6v3.6h-3.6zM84 102h3.6v3.6h-3.6zM33 105h6.6v3.6h-6.6zM81 105h3.6v3.6h-3.6zM36 108h6.6v3.6h-6.6zM78 108h3.6v3.6h-3.6z"/>
<path fill="#140e26" d="M54 -3h15.6v3.6h-15.6zM45 0h9.6v3.6h-9.6zM69 0h6.6v3.6h-6.6zM42 3h6.6v3.6h-6.6zM75 3h3.6v3.6h-3.6zM36 6h6.6v3.6h-6.6zM78 6h3.6v3.6h-3.6zM33 9h3.6v3.6h-3.6zM81 9h3.6v3.6h-3.6zM30 12h3.6v3.6h-3.6zM84 12h3.6v3.6h-3.6zM27 15h6.6v3.6h-6.6zM84 15h3.6v3.6h-3.6zM27 18h3.6v3.6h-3.6zM87 18h3.6v3.6h-3.6zM24 21h3.6v3.6h-3.6zM87 21h3.6v3.6h-3.6zM24 24h3.6v3.6h-3.6zM90 24h3.6v3.6h-3.6zM21 27h3.6v3.6h-3.6zM90 27h3.6v3.6h-3.6zM21 30h3.6v3.6h-3.6zM18 33h3.6v3.6h-3.6zM18 36h3.6v3.6h-3.6zM93 36h3.6v3.6h-3.6zM18 39h3.6v3.6h-3.6zM93 39h3.6v3.6h-3.6zM93 42h3.6v3.6h-3.6zM15 45h3.6v3.6h-3.6zM15 48h3.6v3.6h-3.6zM15 51h3.6v3.6h-3.6zM15 54h3.6v3.6h-3.6zM15 57h3.6v3.6h-3.6zM15 60h3.6v3.6h-3.6zM15 63h3.6v3.6h-3.6zM15 66h3.6v3.6h-3.6zM15 69h3.6v3.6h-3.6zM93 72h3.6v3.6h-3.6zM18 75h3.6v3.6h-3.6zM93 75h3.6v3.6h-3.6zM18 78h3.6v3.6h-3.6zM93 78h3.6v3.6h-3.6zM18 81h3.6v3.6h-3.6zM21 84h3.6v3.6h-3.6zM90 84h3.6v3.6h-3.6zM21 87h3.6v3.6h-3.6zM90 87h3.6v3.6h-3.6zM24 90h3.6v3.6h-3.6zM27 93h3.6v3.6h-3.6zM87 93h3.6v3.6h-3.6zM27 96h6.6v3.6h-6.6zM84 96h3.6v3.6h-3.6zM30 99h6.6v3.6h-6.6zM84 99h3.6v3.6h-3.6zM33 102h6.6v3.6h-6.6zM81 102h3.6v3.6h-3.6zM39 105h3.6v3.6h-3.6zM78 105h3.6v3.6h-3.6zM42 108h9.6v3.6h-9.6zM72 108h6.6v3.6h-6.6z"/>
<path fill="#170f28" d="M54 0h15.6v3.6h-15.6zM48 3h6.6v3.6h-6.6zM69 3h6.6v3.6h-6.6zM42 6h3.6v3.6h-3.6zM75 6h3.6v3.6h-3.6zM36 9h6.6v3.6h-6.6zM78 9h3.6v3.6h-3.6zM33 12h3.6v3.6h-3.6zM81 12h3.6v3.6h-3.6zM30 18h3.6v3.6h-3.6zM84 18h3.6v3.6h-3.6zM27 21h3.6v3.6h-3.6zM87 24h3.6v3.6h-3.6zM24 27h3.6v3.6h-3.6zM90 30h3.6v3.6h-3.6zM21 33h3.6v3.6h-3.6zM90 33h3.6v3.6h-3.6zM18 42h3.6v3.6h-3.6zM18 45h3.6v3.6h-3.6zM93 45h3.6v3.6h-3.6zM18 48h3.6v3.6h-3.6zM93 48h3.6v3.6h-3.6zM93 51h3.6v3.6h-3.6zM93 54h3.6v3.6h-3.6zM93 57h3.6v3.6h-3.6zM93 60h3.6v3.6h-3.6zM93 63h3.6v3.6h-3.6zM18 66h3.6v3.6h-3.6zM93 66h3.6v3.6h-3.6zM18 69h3.6v3.6h-3.6zM93 69h3.6v3.6h-3.6zM18 72h3.6v3.6h-3.6zM21 78h3.6v3.6h-3.6zM21 81h3.6v3.6h-3.6zM90 81h3.6v3.6h-3.6zM24 84h3.6v3.6h-3.6zM24 87h3.6v3.6h-3.6zM87 87h3.6v3.6h-3.6zM27 90h3.6v3.6h-3.6zM87 90h3.6v3.6h-3.6zM30 93h3.6v3.6h-3.6zM84 93h3.6v3.6h-3.6zM36 99h3.6v3.6h-3.6zM81 99h3.6v3.6h-3.6zM39 102h3.6v3.6h-3.6zM78 102h3.6v3.6h-3.6zM42 105h6.6v3.6h-6.6zM72 105h6.6v3.6h-6.6zM51 108h9.6v3.6h-9.6zM63 108h9.6v3.6h-9.6z"/>
<path fill="#180f29" d="M54 3h15.6v3.6h-15.6zM45 6h6.6v3.6h-6.6zM72 6h3.6v3.6h-3.6zM42 9h3.6v3.6h-3.6zM75 9h3.6v3.6h-3.6zM36 12h3.6v3.6h-3.6zM78 12h3.6v3.6h-3.6zM33 15h3.6v3.6h-3.6zM81 15h3.6v3.6h-3.6zM30 21h3.6v3.6h-3.6zM84 21h3.6v3.6h-3.6zM27 24h3.6v3.6h-3.6zM87 27h3.6v3.6h-3.6zM24 30h3.6v3.6h-3.6zM21 36h3.6v3.6h-3.6zM90 36h3.6v3.6h-3.6zM21 39h3.6v3.6h-3.6zM90 39h3.6v3.6h-3.6zM18 51h3.6v3.6h-3.6zM18 54h3.6v3.6h-3.6zM18 57h3.6v3.6h-3.6zM18 60h3.6v3.6h-3.6zM18 63h3.6v3.6h-3.6zM21 72h3.6v3.6h-3.6zM21 75h3.6v3.6h-3.6zM90 75h3.6v3.6h-3.6zM90 78h3.6v3.6h-3.6zM24 81h3.6v3.6h-3.6zM87 84h3.6v3.6h-3.6zM27 87h3.6v3.6h-3.6zM84 90h3.6v3.6h-3.6zM33 96h3.6v3.6h-3.6zM81 96h3.6v3.6h-3.6zM39 99h3.6v3.6h-3.6zM78 99h3.6v3.6h-3.6zM42 102h3.6v3.6h-3.6zM75 102h3.6v3.6h-3.6zM48 105h6.6v3.6h-6.6zM69 105h3.6v3.6h-3.6zM60 108h3.6v3.6h-3.6z"/>
<path fill="#1b112b" d="M51 6h3.6v3.6h-3.6zM69 6h3.6v3.6h-3.6zM45 9h3.6v3.6h-3.6zM39 12h3.6v3.6h-3.6zM36 15h3.6v3.6h-3.6zM33 18h3.6v3.6h-3.6zM81 18h3.6v3.6h-3.6zM84 24h3.6v3.6h-3.6zM27 27h3.6v3.6h-3.6zM87 30h3.6v3.6h-3.6zM24 33h3.6v3.6h-3.6zM24 36h3.6v3.6h-3.6zM21 42h3.6v3.6h-3.6zM90 42h3.6v3.6h-3.6zM21 45h3.6v3.6h-3.6zM90 45h3.6v3.6h-3.6zM21 48h3.6v3.6h-3.6zM21 66h3.6v3.6h-3.6zM21 69h3.6v3.6h-3.6zM90 69h3.6v3.6h-3.6zM90 72h3.6v3.6h-3.6zM24 78h3.6v3.6h-3.6zM87 81h3.6v3.6h-3.6zM27 84h3.6v3.6h-3.6zM30 90h3.6v3.6h-3.6zM33 93h3.6v3.6h-3.6zM81 93h3.6v3.6h-3.6zM36 96h3.6v3.6h-3.6zM45 102h3.6v3.6h-3.6zM72 102h3.6v3.6h-3.6zM54 105h15.6v3.6h-15.6z"/>
<path fill="#1d112c" d="M54 6h15.6v3.6h-15.6zM48 9h3.6v3.6h-3.6zM72 9h3.6v3.6h-3.6zM42 12h3.6v3.6h-3.6zM75 12h3.6v3.6h-3.6zM39 15h3.6v3.6h-3.6zM78 15h3.6v3.6h-3.6zM36 18h3.6v3.6h-3.6zM33 21h3.6v3.6h-3.6zM30 24h3.6v3.6h-3.6zM27 30h3.6v3.6h-3.6zM87 33h3.6v3.6h-3.6zM24 39h3.6v3.6h-3.6zM90 48h3.6v3.6h-3.6zM21 51h3.6v3.6h-3.6zM90 51h3.6v3.6h-3.6zM21 54h3.6v3.6h-3.6zM90 54h3.6v3.6h-3.6zM21 57h3.6v3.6h-3.6zM90 57h3.6v3.6h-3.6zM21 60h3.6v3.6h-3.6zM90 60h3.6v3.6h-3.6zM21 63h3.6v3.6h-3.6zM90 63h3.6v3.6h-3.6zM90 66h3.6v3.6h-3.6zM24 75h3.6v3.6h-3.6zM87 78h3.6v3.6h-3.6zM27 81h3.6v3.6h-3.6zM30 87h3.6v3.6h-3.6zM84 87h3.6v3.6h-3.6zM33 90h3.6v3.6h-3.6zM36 93h3.6v3.6h-3.6zM39 96h3.6v3.6h-3.6zM78 96h3.6v3.6h-3.6zM42 99h3.6v3.6h-3.6zM75 99h3.6v3.6h-3.6zM48 102h6.6v3.6h-6.6zM69 102h3.6v3.6h-3.6z"/>
<path fill="#20122e" d="M51 9h3.6v3.6h-3.6zM69 9h3.6v3.6h-3.6zM45 12h3.6v3.6h-3.6zM78 18h3.6v3.6h-3.6zM81 21h3.6v3.6h-3.6zM30 27h3.6v3.6h-3.6zM84 27h3.6v3.6h-3.6zM27 33h3.6v3.6h-3.6zM87 36h3.6v3.6h-3.6zM24 42h3.6v3.6h-3.6zM24 72h3.6v3.6h-3.6zM87 75h3.6v3.6h-3.6zM30 84h3.6v3.6h-3.6zM84 84h3.6v3.6h-3.6zM81 90h3.6v3.6h-3.6zM45 99h3.6v3.6h-3.6zM72 99h3.6v3.6h-3.6zM54 102h6.6v3.6h-6.6zM66 102h3.6v3.6h-3.6z"/>
<path fill="#221331" d="M54 9h15.6v3.6h-15.6zM48 12h3.6v3.6h-3.6zM72 12h3.6v3.6h-3.6zM42 15h3.6v3.6h-3.6zM75 15h3.6v3.6h-3.6zM39 18h3.6v3.6h-3.6zM36 21h3.6v3.6h-3.6zM33 24h3.6v3.6h-3.6zM81 24h3.6v3.6h-3.6zM30 30h3.6v3.6h-3.6zM84 30h3.6v3.6h-3.6zM27 36h3.6v3.6h-3.6zM87 39h3.6v3.6h-3.6zM87 42h3.6v3.6h-3.6zM24 45h3.6v3.6h-3.6zM24 48h3.6v3.6h-3.6zM24 66h3.6v3.6h-3.6zM24 69h3.6v3.6h-3.6zM87 72h3.6v3.6h-3.6zM27 78h3.6v3.6h-3.6zM33 87h3.6v3.6h-3.6zM36 90h3.6v3.6h-3.6zM39 93h3.6v3.6h-3.6zM78 93h3.6v3.6h-3.6zM42 96h3.6v3.6h-3.6zM75 96h3.6v3.6h-3.6zM48 99h3.6v3.6h-3.6zM60 102h6.6v3.6h-6.6z"/>
<path fill="#241432" d="M51 12h3.6v3.6h-3.6zM69 12h3.6v3.6h-3.6zM45 15h3.6v3.6h-3.6zM78 21h3.6v3.6h-3.6zM33 27h3.6v3.6h-3.6zM84 33h3.6v3.6h-3.6zM27 39h3.6v3.6h-3.6zM87 45h3.6v3.6h-3.6zM24 51h3.6v3.6h-3.6zM24 54h3.6v3.6h-3.6zM24 57h3.6v3.6h-3.6zM24 60h3.6v3.6h-3.6zM24 63h3.6v3.6h-3.6zM87 69h3.6v3.6h-3.6zM27 75h3.6v3.6h-3.6zM30 81h3.6v3.6h-3.6zM84 81h3.6v3.6h-3.6zM81 87h3.6v3.6h-3.6zM45 96h3.6v3.6h-3.6zM51 99h3.6v3.6h-3.6zM69 99h3.6v3.6h-3.6z"/>
<path fill="#271534" d="M54 12h3.6v3.6h-3.6zM66 12h3.6v3.6h-3.6zM72 15h3.6v3.6h-3.6zM42 18h3.6v3.6h-3.6zM75 18h3.6v3.6h-3.6zM39 21h3.6v3.6h-3.6zM36 24h3.6v3.6h-3.6zM81 27h3.6v3.6h-3.6zM30 33h3.6v3.6h-3.6zM27 42h3.6v3.6h-3.6zM87 48h3.6v3.6h-3.6zM87 51h3.6v3.6h-3.6zM87 63h3.6v3.6h-3.6zM87 66h3.6v3.6h-3.6zM27 72h3.6v3.6h-3.6zM84 78h3.6v3.6h-3.6zM33 84h3.6v3.6h-3.6zM78 90h3.6v3.6h-3.6zM42 93h3.6v3.6h-3.6zM75 93h3.6v3.6h-3.6zM72 96h3.6v3.6h-3.6zM54 99h6.6v3.6h-6.6zM66 99h3.6v3.6h-3.6z"/>
<path fill="#281535" d="M57 12h9.6v3.6h-9.6zM48 15h3.6v3.6h-3.6zM33 30h3.6v3.6h-3.6zM30 36h3.6v3.6h-3.6zM84 36h3.6v3.6h-3.6zM27 45h3.6v3.6h-3.6zM87 54h3.6v3.6h-3.6zM87 57h3.6v3.6h-3.6zM87 60h3.6v3.6h-3.6zM27 69h3.6v3.6h-3.6zM30 78h3.6v3.6h-3.6zM81 84h3.6v3.6h-3.6zM36 87h3.6v3.6h-3.6zM39 90h3.6v3.6h-3.6zM48 96h3.6v3.6h-3.6zM60 99h6.6v3.6h-6.6z"/>
<path fill="#2b1637" d="M51 15h3.6v3.6h-3.6zM69 15h3.6v3.6h-3.6zM45 18h3.6v3.6h-3.6zM78 24h3.6v3.6h-3.6zM36 27h3.6v3.6h-3.6zM81 30h3.6v3.6h-3.6zM84 39h3.6v3.6h-3.6zM27 48h3.6v3.6h-3.6zM27 51h3.6v3.6h-3.6zM27 63h3.6v3.6h-3.6zM27 66h3.6v3.6h-3.6zM30 75h3.6v3.6h-3.6zM84 75h3.6v3.6h-3.6zM33 81h3.6v3.6h-3.6zM78 87h3.6v3.6h-3.6zM45 93h3.6v3.6h-3.6zM51 96h3.6v3.6h-3.6zM69 96h3.6v3.6h-3.6z"/>
<path fill="#2d1738" d="M54 15h3.6v3.6h-3.6zM66 15h3.6v3.6h-3.6zM72 18h3.6v3.6h-3.6zM42 21h3.6v3.6h-3.6zM75 21h3.6v3.6h-3.6zM39 24h3.6v3.6h-3.6zM33 33h3.6v3.6h-3.6zM30 39h3.6v3.6h-3.6zM84 42h3.6v3.6h-3.6zM27 54h3.6v3.6h-3.6zM27 57h3.6v3.6h-3.6zM27 60h3.6v3.6h-3.6zM84 72h3.6v3.6h-3.6zM81 81h3.6v3.6h-3.6zM36 84h3.6v3.6h-3.6zM42 90h3.6v3.6h-3.6zM75 90h3.6v3.6h-3.6zM72 93h3.6v3.6h-3.6zM54 96h3.6v3.6h-3.6zM66 96h3.6v3.6h-3.6z"/>
<path fill="#30173a" d="M57 15h9.6v3.6h-9.6zM48 18h3.6v3.6h-3.6zM78 27h3.6v3.6h-3.6zM81 33h3.6v3.6h-3.6zM30 42h3.6v3.6h-3.6zM30 72h3.6v3.6h-3.6zM33 78h3.6v3.6h-3.6zM39 87h3.6v3.6h-3.6zM48 93h3.6v3.6h-3.6zM57 96h9.6v3.6h-9.6z"/>
<path fill="#34193d" d="M51 18h3.6v3.6h-3.6zM72 21h3.6v3.6h-3.6zM42 24h3.6v3.6h-3.6zM75 24h3.6v3.6h-3.6zM39 27h3.6v3.6h-3.6zM81 36h3.6v3.6h-3.6zM30 48h3.6v3.6h-3.6zM84 48h3.6v3.6h-3.6zM84 51h3.6v3.6h-3.6zM30 66h3.6v3.6h-3.6zM84 66h3.6v3.6h-3.6zM33 75h3.6v3.6h-3.6zM36 81h3.6v3.6h-3.6zM45 90h3.6v3.6h-3.6zM51 93h3.6v3.6h-3.6zM69 93h3.6v3.6h-3.6z"/>
<path fill="#35193e" d="M54 18h3.6v3.6h-3.6zM66 18h3.6v3.6h-3.6zM78 30h3.6v3.6h-3.6zM36 33h3.6v3.6h-3.6zM33 39h3.6v3.6h-3.6zM30 51h3.6v3.6h-3.6zM84 54h3.6v3.6h-3.6zM84 57h3.6v3.6h-3.6zM84 60h3.6v3.6h-3.6zM30 63h3.6v3.6h-3.6zM84 63h3.6v3.6h-3.6zM39 84h3.6v3.6h-3.6zM42 87h3.6v3.6h-3.6zM75 87h3.6v3.6h-3.6zM72 90h3.6v3.6h-3.6zM54 93h3.6v3.6h-3.6zM66 93h3.6v3.6h-3.6z"/>
<path fill="#381a40" d="M57 18h9.6v3.6h-9.6zM48 21h3.6v3.6h-3.6zM39 30h3.6v3.6h-3.6zM81 39h3.6v3.6h-3.6zM30 54h3.6v3.6h-3.6zM30 57h3.6v3.6h-3.6zM30 60h3.6v3.6h-3.6zM33 72h3.6v3.6h-3.6zM81 75h3.6v3.6h-3.6zM78 81h3.6v3.6h-3.6zM48 90h3.6v3.6h-3.6zM57 93h3.6v3.6h-3.6z"/>
<path fill="#31183b" d="M69 18h3.6v3.6h-3.6zM45 21h3.6v3.6h-3.6zM36 30h3.6v3.6h-3.6zM33 36h3.6v3.6h-3.6zM30 45h3.6v3.6h-3.6zM84 45h3.6v3.6h-3.6zM30 69h3.6v3.6h-3.6zM84 69h3.6v3.6h-3.6zM81 78h3.6v3.6h-3.6zM78 84h3.6v3.6h-3.6z"/>
<path fill="#3d1a42" d="M51 21h3.6v3.6h-3.6zM72 24h3.6v3.6h-3.6zM78 33h3.6v3.6h-3.6zM36 36h3.6v3.6h-3.6zM81 42h3.6v3.6h-3.6zM33 45h3.6v3.6h-3.6zM33 69h3.6v3.6h-3.6zM81 72h3.6v3.6h-3.6zM39 81h3.6v3.6h-3.6zM42 84h3.6v3.6h-3.6zM75 84h3.6v3.6h-3.6zM45 87h3.6v3.6h-3.6zM51 90h3.6v3.6h-3.6zM69 90h3.6v3.6h-3.6z"/>
<path fill="#401b44" d="M54 21h3.6v3.6h-3.6zM36 75h3.6v3.6h-3.6zM72 87h3.6v3.6h-3.6z"/>
<path fill="#451c47" d="M57 21h9.6v3.6h-9.6zM45 27h3.6v3.6h-3.6zM42 30h3.6v3.6h-3.6zM75 30h3.6v3.6h-3.6zM78 36h3.6v3.6h-3.6zM81 48h3.6v3.6h-3.6zM33 51h3.6v3.6h-3.6zM33 63h3.6v3.6h-3.6zM81 66h3.6v3.6h-3.6zM39 78h3.6v3.6h-3.6zM48 87h3.6v3.6h-3.6zM57 90h3.6v3.6h-3.6z"/>
<path fill="#421b45" d="M66 21h3.6v3.6h-3.6zM48 24h3.6v3.6h-3.6zM39 33h3.6v3.6h-3.6zM36 39h3.6v3.6h-3.6zM81 45h3.6v3.6h-3.6zM33 48h3.6v3.6h-3.6zM33 66h3.6v3.6h-3.6zM81 69h3.6v3.6h-3.6zM78 78h3.6v3.6h-3.6zM54 90h3.6v3.6h-3.6zM66 90h3.6v3.6h-3.6z"/>
<path fill="#3a1a41" d="M69 21h3.6v3.6h-3.6zM45 24h3.6v3.6h-3.6zM42 27h3.6v3.6h-3.6zM75 27h3.6v3.6h-3.6zM33 42h3.6v3.6h-3.6zM36 78h3.6v3.6h-3.6zM60 93h6.6v3.6h-6.6z"/>
<path fill="#461c48" d="M51 24h3.6v3.6h-3.6zM69 24h3.6v3.6h-3.6zM72 27h3.6v3.6h-3.6zM36 42h3.6v3.6h-3.6zM81 51h3.6v3.6h-3.6zM33 54h3.6v3.6h-3.6zM33 57h3.6v3.6h-3.6zM33 60h3.6v3.6h-3.6zM36 72h3.6v3.6h-3.6zM42 81h3.6v3.6h-3.6zM75 81h3.6v3.6h-3.6zM45 84h3.6v3.6h-3.6zM60 90h6.6v3.6h-6.6z"/>
<path fill="#4b1d4a" d="M54 24h3.6v3.6h-3.6zM66 24h3.6v3.6h-3.6zM48 27h3.6v3.6h-3.6zM42 33h3.6v3.6h-3.6zM75 33h3.6v3.6h-3.6zM78 39h3.6v3.6h-3.6zM36 45h3.6v3.6h-3.6zM36 69h3.6v3.6h-3.6zM72 84h3.6v3.6h-3.6zM51 87h3.6v3.6h-3.6z"/>
<path fill="#501d4c" d="M57 24h9.6v3.6h-9.6zM69 27h3.6v3.6h-3.6zM72 30h3.6v3.6h-3.6zM39 39h3.6v3.6h-3.6zM78 42h3.6v3.6h-3.6zM36 48h3.6v3.6h-3.6zM36 66h3.6v3.6h-3.6zM78 72h3.6v3.6h-3.6zM48 84h3.6v3.6h-3.6zM54 87h3.6v3.6h-3.6zM66 87h3.6v3.6h-3.6z"/>
<path fill="#531e4d" d="M51 27h3.6v3.6h-3.6zM42 78h3.6v3.6h-3.6zM75 78h3.6v3.6h-3.6zM45 81h3.6v3.6h-3.6zM57 87h3.6v3.6h-3.6z"/>
<path fill="#591e50" d="M54 27h3.6v3.6h-3.6zM66 27h3.6v3.6h-3.6z"/>
<path fill="#5e1f52" d="M57 27h9.6v3.6h-9.6zM69 30h3.6v3.6h-3.6zM42 39h3.6v3.6h-3.6zM75 39h3.6v3.6h-3.6zM78 51h3.6v3.6h-3.6zM45 78h3.6v3.6h-3.6zM54 84h3.6v3.6h-3.6zM66 84h3.6v3.6h-3.6z"/>
<path fill="#4e1d4b" d="M45 30h3.6v3.6h-3.6zM39 75h3.6v3.6h-3.6z"/>
<path fill="#581e4f" d="M48 30h3.6v3.6h-3.6zM45 33h3.6v3.6h-3.6zM39 42h3.6v3.6h-3.6zM78 45h3.6v3.6h-3.6zM36 57h3.6v3.6h-3.6zM36 60h3.6v3.6h-3.6zM78 69h3.6v3.6h-3.6zM72 81h3.6v3.6h-3.6zM51 84h3.6v3.6h-3.6z"/>
<path fill="#611f53" d="M51 30h3.6v3.6h-3.6zM78 54h3.6v3.6h-3.6zM78 63h3.6v3.6h-3.6z"/>
<path fill="#691f55" d="M54 30h3.6v3.6h-3.6zM66 30h3.6v3.6h-3.6zM72 36h3.6v3.6h-3.6zM42 42h3.6v3.6h-3.6zM75 42h3.6v3.6h-3.6zM39 63h3.6v3.6h-3.6zM51 81h3.6v3.6h-3.6z"/>
<path fill="#6e1f57" d="M57 30h3.6v3.6h-3.6zM69 33h3.6v3.6h-3.6z"/>
<path fill="#701f57" d="M60 30h6.6v3.6h-6.6zM51 33h3.6v3.6h-3.6zM45 39h3.6v3.6h-3.6zM42 45h3.6v3.6h-3.6zM75 45h3.6v3.6h-3.6zM42 69h3.6v3.6h-3.6zM75 69h3.6v3.6h-3.6zM54 81h3.6v3.6h-3.6zM66 81h3.6v3.6h-3.6z"/>
<path fill="#641f54" d="M48 33h3.6v3.6h-3.6zM45 36h3.6v3.6h-3.6zM39 48h3.6v3.6h-3.6zM78 57h3.6v3.6h-3.6zM78 60h3.6v3.6h-3.6zM39 66h3.6v3.6h-3.6zM72 78h3.6v3.6h-3.6zM57 84h3.6v3.6h-3.6z"/>
<path fill="#781f59" d="M54 33h3.6v3.6h-3.6zM42 48h3.6v3.6h-3.6zM75 48h3.6v3.6h-3.6zM42 66h3.6v3.6h-3.6zM75 66h3.6v3.6h-3.6zM45 72h3.6v3.6h-3.6zM51 78h3.6v3.6h-3.6zM63 81h3.6v3.6h-3.6z"/>
<path fill="#7f1e5a" d="M57 33h3.6v3.6h-3.6zM51 36h3.6v3.6h-3.6zM48 39h3.6v3.6h-3.6zM72 72h3.6v3.6h-3.6z"/>
<path fill="#821e5a" d="M60 33h6.6v3.6h-6.6zM72 42h3.6v3.6h-3.6zM42 54h3.6v3.6h-3.6zM75 54h3.6v3.6h-3.6zM42 57h3.6v3.6h-3.6zM75 57h3.6v3.6h-3.6zM42 60h3.6v3.6h-3.6zM75 60h3.6v3.6h-3.6z"/>
<path fill="#7a1f59" d="M66 33h3.6v3.6h-3.6zM45 42h3.6v3.6h-3.6zM60 81h3.6v3.6h-3.6z"/>
<path fill="#5c1e51" d="M72 33h3.6v3.6h-3.6zM39 45h3.6v3.6h-3.6zM78 48h3.6v3.6h-3.6zM78 66h3.6v3.6h-3.6zM39 69h3.6v3.6h-3.6zM42 75h3.6v3.6h-3.6zM75 75h3.6v3.6h-3.6zM48 81h3.6v3.6h-3.6z"/>
<path fill="#491d49" d="M39 36h3.6v3.6h-3.6zM81 54h3.6v3.6h-3.6zM81 57h3.6v3.6h-3.6zM81 60h3.6v3.6h-3.6zM81 63h3.6v3.6h-3.6zM78 75h3.6v3.6h-3.6zM69 87h3.6v3.6h-3.6z"/>
<path fill="#541e4e" d="M42 36h3.6v3.6h-3.6zM75 36h3.6v3.6h-3.6zM36 51h3.6v3.6h-3.6zM36 54h3.6v3.6h-3.6zM36 63h3.6v3.6h-3.6zM39 72h3.6v3.6h-3.6zM69 84h3.6v3.6h-3.6zM60 87h6.6v3.6h-6.6z"/>
<path fill="#731f58" d="M48 36h3.6v3.6h-3.6zM72 75h3.6v3.6h-3.6z"/>
<path fill="#8b1d5b" d="M54 36h3.6v3.6h-3.6zM51 75h3.6v3.6h-3.6z"/>
<path fill="#951c5b" d="M57 36h3.6v3.6h-3.6z"/>
<path fill="#971c5b" d="M60 36h6.6v3.6h-6.6zM72 48h3.6v3.6h-3.6zM45 51h3.6v3.6h-3.6zM45 63h3.6v3.6h-3.6z"/>
<path fill="#8c1d5b" d="M66 36h3.6v3.6h-3.6zM69 39h3.6v3.6h-3.6zM72 45h3.6v3.6h-3.6zM72 69h3.6v3.6h-3.6zM48 72h3.6v3.6h-3.6zM57 78h3.6v3.6h-3.6z"/>
<path fill="#7d1f5a" d="M69 36h3.6v3.6h-3.6zM42 51h3.6v3.6h-3.6zM75 51h3.6v3.6h-3.6zM42 63h3.6v3.6h-3.6zM75 63h3.6v3.6h-3.6zM48 75h3.6v3.6h-3.6z"/>
<path fill="#901d5b" d="M51 39h3.6v3.6h-3.6zM48 42h3.6v3.6h-3.6zM45 48h3.6v3.6h-3.6zM45 66h3.6v3.6h-3.6zM60 78h6.6v3.6h-6.6z"/>
<path fill="#9f1a5b" d="M54 39h3.6v3.6h-3.6zM66 39h3.6v3.6h-3.6zM45 57h3.6v3.6h-3.6zM51 72h3.6v3.6h-3.6z"/>
<path fill="#aa185a" d="M57 39h3.6v3.6h-3.6zM72 57h3.6v3.6h-3.6zM48 66h3.6v3.6h-3.6z"/>
<path fill="#af1759" d="M60 39h3.6v3.6h-3.6zM54 72h3.6v3.6h-3.6z"/>
<path fill="#ad1759" d="M63 39h3.6v3.6h-3.6zM69 45h3.6v3.6h-3.6zM69 69h3.6v3.6h-3.6z"/>
<path fill="#751f58" d="M72 39h3.6v3.6h-3.6zM69 78h3.6v3.6h-3.6zM57 81h3.6v3.6h-3.6z"/>
<path fill="#a11a5b" d="M51 42h3.6v3.6h-3.6zM72 51h3.6v3.6h-3.6zM72 63h3.6v3.6h-3.6zM57 75h3.6v3.6h-3.6z"/>
<path fill="#b21758" d="M54 42h3.6v3.6h-3.6zM51 45h3.6v3.6h-3.6zM48 51h3.6v3.6h-3.6zM48 63h3.6v3.6h-3.6zM51 69h3.6v3.6h-3.6zM66 72h3.6v3.6h-3.6z"/>
<path fill="#bd1655" d="M57 42h3.6v3.6h-3.6zM63 72h3.6v3.6h-3.6z"/>
<path fill="#c21753" d="M60 42h3.6v3.6h-3.6zM54 69h3.6v3.6h-3.6z"/>
<path fill="#c11754" d="M63 42h3.6v3.6h-3.6zM51 48h3.6v3.6h-3.6zM51 66h3.6v3.6h-3.6zM60 72h3.6v3.6h-3.6z"/>
<path fill="#b41658" d="M66 42h3.6v3.6h-3.6z"/>
<path fill="#9c1b5b" d="M69 42h3.6v3.6h-3.6zM48 45h3.6v3.6h-3.6zM45 54h3.6v3.6h-3.6zM45 60h3.6v3.6h-3.6z"/>
<path fill="#861e5b" d="M45 45h3.6v3.6h-3.6zM45 69h3.6v3.6h-3.6zM54 78h3.6v3.6h-3.6zM66 78h3.6v3.6h-3.6z"/>
<path fill="#c51852" d="M54 45h3.6v3.6h-3.6zM66 45h3.6v3.6h-3.6zM69 51h3.6v3.6h-3.6zM69 63h3.6v3.6h-3.6zM66 69h3.6v3.6h-3.6z"/>
<path fill="#d11f4c" d="M57 45h3.6v3.6h-3.6zM51 54h3.6v3.6h-3.6zM57 69h3.6v3.6h-3.6z"/>
<path fill="#d62449" d="M60 45h3.6v3.6h-3.6z"/>
<path fill="#d5224a" d="M63 45h3.6v3.6h-3.6zM66 48h3.6v3.6h-3.6zM51 57h3.6v3.6h-3.6zM66 66h3.6v3.6h-3.6zM60 69h3.6v3.6h-3.6z"/>
<path fill="#a6195a" d="M48 48h3.6v3.6h-3.6zM72 54h3.6v3.6h-3.6zM72 60h3.6v3.6h-3.6zM60 75h6.6v3.6h-6.6z"/>
<path fill="#d2204c" d="M54 48h3.6v3.6h-3.6zM51 60h3.6v3.6h-3.6zM54 66h3.6v3.6h-3.6zM63 69h3.6v3.6h-3.6z"/>
<path fill="#df2f44" d="M57 48h3.6v3.6h-3.6zM66 51h3.6v3.6h-3.6zM66 63h3.6v3.6h-3.6zM57 66h3.6v3.6h-3.6z"/>
<path fill="#e33641" d="M60 48h3.6v3.6h-3.6zM54 60h3.6v3.6h-3.6zM60 66h3.6v3.6h-3.6z"/>
<path fill="#e23442" d="M63 48h3.6v3.6h-3.6zM54 54h3.6v3.6h-3.6zM63 66h3.6v3.6h-3.6z"/>
<path fill="#b91657" d="M69 48h3.6v3.6h-3.6zM48 60h3.6v3.6h-3.6zM57 72h3.6v3.6h-3.6z"/>
<path fill="#661f54" d="M39 51h3.6v3.6h-3.6zM42 72h3.6v3.6h-3.6zM75 72h3.6v3.6h-3.6zM69 81h3.6v3.6h-3.6zM60 84h6.6v3.6h-6.6z"/>
<path fill="#ca1a50" d="M51 51h3.6v3.6h-3.6z"/>
<path fill="#dd2c45" d="M54 51h3.6v3.6h-3.6zM54 63h3.6v3.6h-3.6z"/>
<path fill="#e83f3f" d="M57 51h3.6v3.6h-3.6z"/>
<path fill="#ec4a3e" d="M60 51h3.6v3.6h-3.6zM57 54h3.6v3.6h-3.6zM60 63h3.6v3.6h-3.6z"/>
<path fill="#ea443e" d="M63 51h3.6v3.6h-3.6z"/>
<path fill="#6b1f56" d="M39 54h3.6v3.6h-3.6zM39 57h3.6v3.6h-3.6zM39 60h3.6v3.6h-3.6zM45 75h3.6v3.6h-3.6zM48 78h3.6v3.6h-3.6z"/>
<path fill="#b71657" d="M48 54h3.6v3.6h-3.6z"/>
<path fill="#ef5640" d="M60 54h3.6v3.6h-3.6z"/>
<path fill="#ee543f" d="M63 54h3.6v3.6h-3.6zM63 60h3.6v3.6h-3.6z"/>
<path fill="#e53940" d="M66 54h3.6v3.6h-3.6zM54 57h3.6v3.6h-3.6zM66 60h3.6v3.6h-3.6z"/>
<path fill="#cd1c4e" d="M69 54h3.6v3.6h-3.6zM69 60h3.6v3.6h-3.6zM51 63h3.6v3.6h-3.6z"/>
<path fill="#bc1656" d="M48 57h3.6v3.6h-3.6zM69 66h3.6v3.6h-3.6z"/>
<path fill="#ed503e" d="M57 57h3.6v3.6h-3.6z"/>
<path fill="#f05c42" d="M60 57h3.6v3.6h-3.6z"/>
<path fill="#ef5a41" d="M63 57h3.6v3.6h-3.6zM60 60h3.6v3.6h-3.6z"/>
<path fill="#e73d3f" d="M66 57h3.6v3.6h-3.6z"/>
<path fill="#ce1d4e" d="M69 57h3.6v3.6h-3.6z"/>
<path fill="#ed4e3e" d="M57 60h3.6v3.6h-3.6z"/>
<path fill="#e9423e" d="M57 63h3.6v3.6h-3.6z"/>
<path fill="#eb483e" d="M63 63h3.6v3.6h-3.6z"/>
<path fill="#9a1b5b" d="M72 66h3.6v3.6h-3.6zM48 69h3.6v3.6h-3.6zM69 72h3.6v3.6h-3.6zM54 75h3.6v3.6h-3.6zM66 75h3.6v3.6h-3.6z"/>
<path fill="#871e5b" d="M69 75h3.6v3.6h-3.6z"/>
</g></g>
 <g fill="none" stroke="#dcdcdc" stroke-width="0.95" stroke-dasharray="0.8 0.35"><use href="#ol"/></g>
</g>
<rect x="457.3" y="50.7" width="6.3" height="84.4" fill="url(#magCB)"/>
<line x1="463.6" y1="59.4" x2="465.3" y2="59.4" stroke="#222" stroke-width="0.8"/>
<line x1="463.6" y1="135" x2="465.3" y2="135" stroke="#222" stroke-width="0.8"/>
<text x="469" y="63.4" font-size="10" class="t">4.5</text>
<text x="468" y="138.6" font-size="10" class="t">0.0</text>
<text transform="translate(469,98) rotate(90)" font-size="11" text-anchor="middle" class="t">ΔF/F (%)</text>

<!-- ============ PANEL C ============ -->
<text class="lb" x="502.9" y="10.6">c</text>
<line x1="537.6" y1="30.3" x2="549" y2="30.3" stroke="#e0282e" stroke-width="1.5"/>
<text x="550.6" y="33.8" font-size="10.8" class="t">Texture</text>
<line x1="596" y1="30.5" x2="607.5" y2="30.5" stroke="#3b75b7" stroke-width="1.5"/>
<text x="609" y="33.8" font-size="10.8" class="t">Scramble</text>
<rect x="548.9" y="40.3" width="15.1" height="89.4" fill="#d5ebdf"/>
<rect x="623.8" y="40.3" width="15.0" height="89.4" fill="#d5ebdf"/>
<path d="M536.6,112.6 L537.3,112.7 L538.4,112.9 L539.6,113.1 L540.9,113.3 L542.1,113.5 L543.2,113.7 L544.1,113.9 L544.9,114.0 L545.7,114.2 L546.4,114.3 L547.1,114.3 L547.7,114.2 L548.2,114.0 L548.6,113.9 L548.9,113.6 L549.3,113.2 L549.6,112.5 L549.9,111.5 L550.3,110.0 L550.6,108.2 L551.0,106.1 L551.4,103.8 L551.7,101.4 L552.1,99.2 L552.5,96.9 L552.8,94.5 L553.2,92.1 L553.6,89.8 L553.9,87.5 L554.3,85.4 L554.7,83.5 L555.0,81.7 L555.3,80.0 L555.7,78.4 L556.1,77.0 L556.5,75.8 L557.0,74.9 L557.5,74.3 L558.1,73.9 L558.7,73.5 L559.2,73.0 L559.8,72.5 L560.4,71.7 L560.9,71.0 L561.5,70.2 L562.0,69.3 L562.6,68.5 L563.1,67.6 L563.6,66.6 L564.1,65.6 L564.5,64.5 L565.0,63.4 L565.4,62.5 L565.8,61.7 L566.1,61.1 L566.5,60.6 L566.7,60.1 L567.0,59.8 L567.3,59.6 L567.6,59.6 L567.9,59.6 L568.2,59.7 L568.6,59.9 L568.9,60.3 L569.3,61.0 L569.7,62.0 L570.2,63.4 L570.7,65.2 L571.3,67.2 L571.8,69.3 L572.4,71.4 L573.0,73.4 L573.6,75.3 L574.1,77.2 L574.7,79.1 L575.3,81.0 L575.8,82.8 L576.4,84.4 L576.9,85.9 L577.5,87.3 L578.0,88.7 L578.5,89.9 L579.1,91.7 L579.7,92.8 L580.4,93.8 L581.1,94.7 L581.8,95.5 L582.6,96.2 L583.4,96.9 L584.1,97.6 L584.8,98.3 L585.6,99.0 L586.3,99.7 L587.0,100.3 L587.8,101.0 L588.5,101.6 L589.3,102.3 L590.0,103.0 L590.8,103.7 L591.5,104.4 L592.3,105.1 L592.9,105.6 L593.5,106.1 L594.1,106.6 L594.6,107.0 L595.1,107.3 L595.5,107.6 L595.8,107.8 L595.8,115.0 L595.5,114.8 L595.1,114.5 L594.6,114.1 L594.1,113.7 L593.5,113.3 L592.9,112.8 L592.3,112.2 L591.5,111.6 L590.8,110.9 L590.0,110.2 L589.3,109.5 L588.5,108.8 L587.8,108.1 L587.0,107.5 L586.3,106.8 L585.6,106.2 L584.8,105.5 L584.1,104.8 L583.4,104.1 L582.6,103.3 L581.8,102.6 L581.1,101.8 L580.4,101.0 L579.7,100.0 L579.1,98.9 L578.5,98.3 L578.0,97.1 L577.5,95.7 L576.9,94.3 L576.4,92.8 L575.8,91.2 L575.3,89.4 L574.7,87.5 L574.1,85.6 L573.6,83.7 L573.0,81.8 L572.4,79.8 L571.8,77.7 L571.3,75.6 L570.7,73.6 L570.2,71.8 L569.7,70.4 L569.3,69.4 L568.9,68.7 L568.6,68.2 L568.2,67.9 L567.9,67.7 L567.6,67.6 L567.3,67.6 L567.0,67.7 L566.7,68.0 L566.5,68.3 L566.1,68.8 L565.8,69.3 L565.4,69.9 L565.0,70.8 L564.5,71.7 L564.1,72.7 L563.6,73.6 L563.1,74.4 L562.6,75.1 L562.0,75.9 L561.5,76.5 L560.9,77.2 L560.4,77.8 L559.8,78.3 L559.2,78.8 L558.7,79.0 L558.1,79.2 L557.5,79.5 L557.0,80.0 L556.5,80.8 L556.1,81.8 L555.7,83.1 L555.3,84.5 L555.0,86.1 L554.7,87.8 L554.3,89.6 L553.9,91.5 L553.6,93.6 L553.2,95.8 L552.8,98.1 L552.5,100.3 L552.1,102.4 L551.7,104.6 L551.4,106.8 L551.0,108.9 L550.6,111.0 L550.3,112.8 L549.9,114.3 L549.6,115.3 L549.3,116.0 L548.9,116.4 L548.6,116.7 L548.2,116.8 L547.7,117.0 L547.1,117.1 L546.4,117.1 L545.7,117.0 L544.9,116.8 L544.1,116.7 L543.2,116.5 L542.1,116.3 L540.9,116.1 L539.6,115.9 L538.4,115.7 L537.3,115.5 L536.6,115.4Z" fill="#f3a6a9" fill-opacity="0.8"/>
<path d="M612.3,113.3 L613.0,113.4 L613.9,113.6 L615.0,113.8 L616.1,114.0 L617.2,114.2 L618.2,114.4 L619.1,114.5 L619.9,114.7 L620.7,114.8 L621.4,114.9 L622.1,114.9 L622.7,114.8 L623.2,114.7 L623.6,114.7 L623.9,114.5 L624.3,114.2 L624.6,113.6 L624.9,112.6 L625.3,111.1 L625.6,109.2 L626.0,106.9 L626.4,104.4 L626.7,101.8 L627.1,99.2 L627.5,96.3 L627.8,93.2 L628.2,90.0 L628.6,86.7 L629.0,83.7 L629.3,81.0 L629.6,78.7 L629.9,76.5 L630.2,74.4 L630.5,72.6 L630.8,71.0 L631.1,69.7 L631.4,68.7 L631.7,68.1 L632.1,67.7 L632.4,67.5 L632.8,67.2 L633.3,66.7 L633.8,66.0 L634.5,65.3 L635.1,64.6 L635.8,63.8 L636.4,63.1 L637.0,62.3 L637.5,61.4 L638.0,60.4 L638.5,59.4 L638.9,58.4 L639.4,57.6 L639.8,56.9 L640.2,56.3 L640.6,55.7 L641.0,55.3 L641.4,55.0 L641.8,54.8 L642.2,54.8 L642.6,54.9 L643.0,55.2 L643.4,55.6 L643.8,56.1 L644.3,56.9 L644.7,57.9 L645.1,59.2 L645.6,60.7 L646.0,62.4 L646.5,64.2 L646.9,66.1 L647.4,67.9 L647.9,69.7 L648.3,71.6 L648.8,73.5 L649.3,75.4 L649.8,77.2 L650.3,78.9 L650.8,80.4 L651.3,81.9 L651.9,83.2 L652.4,84.5 L653.0,85.6 L653.6,86.6 L654.3,88.0 L655.0,88.6 L655.7,89.1 L656.5,89.5 L657.3,90.0 L658.0,90.6 L658.7,91.4 L659.5,92.3 L660.2,93.2 L660.9,94.1 L661.7,95.1 L662.4,96.1 L663.1,97.2 L663.9,98.3 L664.6,99.5 L665.4,100.7 L666.1,101.7 L666.8,102.7 L667.5,103.6 L668.3,104.5 L669.1,105.3 L669.8,106.1 L670.4,106.7 L670.8,107.1 L670.8,114.3 L670.4,113.8 L669.8,113.2 L669.1,112.5 L668.3,111.7 L667.5,110.8 L666.8,109.9 L666.1,108.9 L665.4,107.8 L664.6,106.6 L663.9,105.5 L663.1,104.3 L662.4,103.3 L661.7,102.3 L660.9,101.3 L660.2,100.3 L659.5,99.4 L658.7,98.6 L658.0,97.8 L657.3,97.1 L656.5,96.6 L655.7,96.2 L655.0,95.7 L654.3,95.2 L653.6,95.0 L653.0,94.0 L652.4,92.9 L651.9,91.6 L651.3,90.3 L650.8,88.8 L650.3,87.3 L649.8,85.6 L649.3,83.8 L648.8,81.9 L648.3,80.0 L647.9,78.1 L647.4,76.3 L646.9,74.5 L646.5,72.6 L646.0,70.8 L645.6,69.1 L645.1,67.6 L644.7,66.3 L644.3,65.3 L643.8,64.5 L643.4,63.9 L643.0,63.4 L642.6,63.0 L642.2,62.8 L641.8,62.7 L641.4,62.7 L641.0,62.9 L640.6,63.3 L640.2,63.7 L639.8,64.1 L639.4,64.7 L638.9,65.5 L638.5,66.3 L638.0,67.2 L637.5,68.0 L637.0,68.7 L636.4,69.4 L635.8,70.0 L635.1,70.6 L634.5,71.1 L633.8,71.6 L633.3,72.1 L632.8,72.5 L632.4,72.7 L632.1,72.9 L631.7,73.1 L631.4,73.6 L631.1,74.5 L630.8,75.7 L630.5,77.2 L630.2,78.9 L629.9,80.8 L629.6,82.9 L629.3,85.2 L629.0,87.7 L628.6,90.6 L628.2,93.7 L627.8,96.8 L627.5,99.7 L627.1,102.4 L626.7,105.0 L626.4,107.4 L626.0,109.8 L625.6,112.0 L625.3,113.9 L624.9,115.4 L624.6,116.4 L624.3,117.0 L623.9,117.4 L623.6,117.5 L623.2,117.5 L622.7,117.6 L622.1,117.7 L621.4,117.7 L620.7,117.6 L619.9,117.5 L619.1,117.3 L618.2,117.2 L617.2,117.0 L616.1,116.8 L615.0,116.6 L613.9,116.4 L613.0,116.2 L612.3,116.1Z" fill="#f3a6a9" fill-opacity="0.8"/>
<path d="M536.6,112.7 L537.3,112.8 L538.4,113.0 L539.6,113.2 L540.9,113.4 L542.1,113.6 L543.2,113.8 L544.1,114.0 L544.9,114.1 L545.7,114.3 L546.4,114.4 L547.1,114.4 L547.7,114.3 L548.2,114.1 L548.6,114.0 L548.9,113.7 L549.3,113.3 L549.6,112.6 L549.9,111.6 L550.3,110.1 L550.6,108.3 L551.0,106.2 L551.4,103.9 L551.7,101.6 L552.1,99.4 L552.5,97.1 L552.8,94.8 L553.2,92.4 L553.6,90.0 L553.9,87.8 L554.3,85.9 L554.7,84.2 L555.0,82.7 L555.3,81.3 L555.7,80.1 L556.1,79.0 L556.5,78.0 L557.0,77.2 L557.5,76.5 L558.1,75.9 L558.7,75.5 L559.2,75.0 L559.8,74.4 L560.3,73.8 L560.9,73.2 L561.4,72.6 L562.0,72.0 L562.5,71.4 L563.1,70.8 L563.7,70.2 L564.2,69.5 L564.8,68.8 L565.4,68.2 L565.9,67.8 L566.4,67.5 L566.8,67.4 L567.2,67.5 L567.5,67.6 L567.8,67.9 L568.2,68.4 L568.6,69.1 L569.1,70.1 L569.6,71.4 L570.2,72.9 L570.8,74.5 L571.4,76.2 L572.0,77.9 L572.6,79.7 L573.1,81.6 L573.7,83.5 L574.2,85.5 L574.8,87.3 L575.3,89.0 L575.8,90.5 L576.4,91.9 L576.9,93.3 L577.4,94.5 L578.0,95.6 L578.6,96.7 L579.3,98.1 L580.0,98.9 L580.7,99.6 L581.5,100.3 L582.3,100.9 L583.0,101.5 L583.7,102.2 L584.5,102.8 L585.2,103.4 L585.9,104.0 L586.7,104.6 L587.4,105.2 L588.1,105.9 L588.9,106.6 L589.6,107.3 L590.4,108.0 L591.1,108.6 L591.8,109.2 L592.5,109.9 L593.3,110.5 L594.1,111.2 L594.8,111.7 L595.4,112.2 L595.8,112.5 L595.8,117.6 L595.4,117.3 L594.8,116.8 L594.1,116.2 L593.3,115.6 L592.5,115.0 L591.8,114.3 L591.1,113.7 L590.4,113.1 L589.6,112.4 L588.9,111.7 L588.1,111.0 L587.4,110.3 L586.7,109.7 L585.9,109.1 L585.2,108.5 L584.5,107.9 L583.7,107.3 L583.0,106.6 L582.3,106.0 L581.5,105.4 L580.7,104.7 L580.0,104.0 L579.3,103.2 L578.6,102.7 L578.0,101.6 L577.4,100.5 L576.9,99.3 L576.4,97.9 L575.8,96.5 L575.3,95.0 L574.8,93.3 L574.2,91.5 L573.7,89.5 L573.1,87.6 L572.6,85.7 L572.0,83.9 L571.4,82.2 L570.8,80.5 L570.2,78.9 L569.6,77.4 L569.1,76.1 L568.6,75.1 L568.2,74.3 L567.8,73.7 L567.5,73.3 L567.2,73.1 L566.8,73.0 L566.4,73.1 L565.9,73.2 L565.4,73.6 L564.8,74.0 L564.2,74.6 L563.7,75.1 L563.1,75.6 L562.5,76.1 L562.0,76.6 L561.4,77.1 L560.9,77.6 L560.3,78.1 L559.8,78.6 L559.2,79.0 L558.7,79.4 L558.1,79.8 L557.5,80.2 L557.0,80.8 L556.5,81.6 L556.1,82.5 L555.7,83.5 L555.3,84.7 L555.0,86.0 L554.7,87.5 L554.3,89.1 L553.9,91.0 L553.6,93.1 L553.2,95.4 L552.8,97.7 L552.5,100.0 L552.1,102.2 L551.7,104.4 L551.4,106.6 L551.0,108.8 L550.6,110.9 L550.3,112.7 L549.9,114.2 L549.6,115.2 L549.3,115.9 L548.9,116.3 L548.6,116.6 L548.2,116.7 L547.7,116.9 L547.1,117.0 L546.4,117.0 L545.7,116.9 L544.9,116.7 L544.1,116.6 L543.2,116.4 L542.1,116.2 L540.9,116.0 L539.6,115.8 L538.4,115.6 L537.3,115.4 L536.6,115.3Z" fill="#a3c4e6" fill-opacity="0.75"/>
<path d="M612.3,113.4 L613.0,113.5 L613.9,113.7 L615.0,113.9 L616.1,114.1 L617.2,114.3 L618.2,114.5 L619.1,114.6 L619.9,114.8 L620.7,114.9 L621.4,115.0 L622.1,115.0 L622.7,114.9 L623.2,114.8 L623.6,114.8 L623.9,114.7 L624.3,114.3 L624.6,113.7 L624.9,112.7 L625.3,111.2 L625.6,109.3 L626.0,107.1 L626.4,104.6 L626.7,102.0 L627.1,99.4 L627.5,96.6 L627.8,93.5 L628.2,90.2 L628.6,87.1 L629.0,84.1 L629.3,81.5 L629.6,79.3 L629.9,77.3 L630.2,75.4 L630.5,73.9 L630.8,72.5 L631.1,71.5 L631.4,70.7 L631.8,70.3 L632.1,70.1 L632.5,70.1 L632.9,70.1 L633.3,70.1 L633.7,70.2 L634.1,70.4 L634.5,70.6 L635.0,70.9 L635.4,71.0 L635.9,71.0 L636.4,70.8 L637.0,70.4 L637.5,69.9 L638.1,69.4 L638.7,68.9 L639.2,68.5 L639.7,68.1 L640.2,67.6 L640.7,67.2 L641.2,66.9 L641.7,66.6 L642.1,66.6 L642.5,66.7 L642.9,66.8 L643.2,67.2 L643.6,67.6 L643.9,68.2 L644.3,69.1 L644.7,70.2 L645.1,71.5 L645.6,73.0 L646.0,74.6 L646.5,76.2 L647.0,77.9 L647.5,79.7 L648.1,81.6 L648.6,83.5 L649.2,85.5 L649.7,87.3 L650.3,89.0 L650.8,90.5 L651.4,91.9 L651.9,93.3 L652.4,94.5 L653.0,95.6 L653.6,96.7 L654.3,98.1 L655.0,98.9 L655.7,99.6 L656.5,100.3 L657.3,100.9 L658.0,101.5 L658.7,102.2 L659.5,102.8 L660.2,103.4 L660.9,104.0 L661.7,104.6 L662.4,105.2 L663.1,105.9 L663.9,106.6 L664.6,107.2 L665.4,107.9 L666.1,108.6 L666.8,109.2 L667.5,109.9 L668.3,110.7 L669.1,111.4 L669.8,112.1 L670.4,112.6 L670.8,113.0 L670.8,118.1 L670.4,117.7 L669.8,117.2 L669.1,116.5 L668.3,115.8 L667.5,115.0 L666.8,114.3 L666.1,113.7 L665.4,113.0 L664.6,112.3 L663.9,111.7 L663.1,111.0 L662.4,110.3 L661.7,109.7 L660.9,109.1 L660.2,108.5 L659.5,107.9 L658.7,107.3 L658.0,106.6 L657.3,106.0 L656.5,105.4 L655.7,104.7 L655.0,104.0 L654.3,103.2 L653.6,102.7 L653.0,101.6 L652.4,100.5 L651.9,99.3 L651.4,97.9 L650.8,96.5 L650.3,95.0 L649.7,93.3 L649.2,91.5 L648.6,89.5 L648.1,87.6 L647.5,85.7 L647.0,83.9 L646.5,82.2 L646.0,80.6 L645.6,79.0 L645.1,77.5 L644.7,76.2 L644.3,75.1 L643.9,74.2 L643.6,73.6 L643.2,73.0 L642.9,72.7 L642.5,72.4 L642.1,72.2 L641.7,72.2 L641.2,72.3 L640.7,72.6 L640.2,72.9 L639.7,73.2 L639.2,73.5 L638.7,73.9 L638.1,74.2 L637.5,74.6 L637.0,75.0 L636.4,75.3 L635.9,75.4 L635.4,75.3 L635.0,75.1 L634.5,74.8 L634.1,74.5 L633.7,74.2 L633.3,74.0 L632.9,74.0 L632.5,73.9 L632.1,73.8 L631.8,73.9 L631.4,74.3 L631.1,74.9 L630.8,76.0 L630.5,77.2 L630.2,78.8 L629.9,80.5 L629.6,82.5 L629.3,84.7 L629.0,87.2 L628.6,90.1 L628.2,93.2 L627.8,96.4 L627.5,99.5 L627.1,102.2 L626.7,104.8 L626.4,107.3 L626.0,109.7 L625.6,111.9 L625.3,113.8 L624.9,115.3 L624.6,116.3 L624.3,116.9 L623.9,117.2 L623.6,117.4 L623.2,117.4 L622.7,117.5 L622.1,117.6 L621.4,117.6 L620.7,117.5 L619.9,117.4 L619.1,117.2 L618.2,117.1 L617.2,116.9 L616.1,116.7 L615.0,116.5 L613.9,116.3 L613.0,116.1 L612.3,116.0Z" fill="#a3c4e6" fill-opacity="0.75"/>
<path d="M536.6,114.0 L537.3,114.1 L538.4,114.3 L539.6,114.5 L540.9,114.7 L542.1,114.9 L543.2,115.1 L544.1,115.3 L544.9,115.4 L545.7,115.6 L546.4,115.7 L547.1,115.7 L547.7,115.6 L548.2,115.4 L548.6,115.3 L548.9,115.0 L549.3,114.6 L549.6,113.9 L549.9,112.9 L550.3,111.4 L550.6,109.6 L551.0,107.5 L551.4,105.3 L551.7,103.0 L552.1,100.8 L552.5,98.6 L552.8,96.3 L553.2,94.0 L553.6,91.7 L553.9,89.5 L554.3,87.5 L554.7,85.7 L555.0,83.9 L555.3,82.2 L555.7,80.7 L556.1,79.4 L556.5,78.3 L557.0,77.5 L557.5,76.9 L558.1,76.6 L558.7,76.2 L559.2,75.9 L559.8,75.4 L560.4,74.8 L560.9,74.1 L561.5,73.4 L562.0,72.6 L562.6,71.8 L563.1,71.0 L563.6,70.1 L564.1,69.1 L564.5,68.1 L565.0,67.1 L565.4,66.2 L565.8,65.5 L566.1,64.9 L566.5,64.4 L566.7,64.0 L567.0,63.8 L567.3,63.6 L567.6,63.6 L567.9,63.7 L568.2,63.8 L568.6,64.1 L568.9,64.5 L569.3,65.2 L569.7,66.2 L570.2,67.6 L570.7,69.4 L571.3,71.4 L571.8,73.5 L572.4,75.6 L573.0,77.6 L573.6,79.5 L574.1,81.4 L574.7,83.3 L575.3,85.2 L575.8,87.0 L576.4,88.6 L576.9,90.1 L577.5,91.5 L578.0,92.9 L578.5,94.1 L579.1,95.3 L579.7,96.4 L580.4,97.4 L581.1,98.3 L581.8,99.0 L582.6,99.8 L583.4,100.5 L584.1,101.2 L584.8,101.9 L585.6,102.6 L586.3,103.2 L587.0,103.9 L587.8,104.5 L588.5,105.2 L589.3,105.9 L590.0,106.6 L590.8,107.3 L591.5,108.0 L592.3,108.6 L592.9,109.2 L593.5,109.7 L594.1,110.1 L594.6,110.5 L595.1,110.9 L595.5,111.2 L595.8,111.4" fill="none" stroke="#e0282e" stroke-width="1.3" stroke-linejoin="round"/>
<path d="M612.3,114.7 L613.0,114.8 L613.9,115.0 L615.0,115.2 L616.1,115.4 L617.2,115.6 L618.2,115.8 L619.1,115.9 L619.9,116.1 L620.7,116.2 L621.4,116.3 L622.1,116.3 L622.7,116.2 L623.2,116.1 L623.6,116.1 L623.9,116.0 L624.3,115.6 L624.6,115.0 L624.9,114.0 L625.3,112.5 L625.6,110.6 L626.0,108.4 L626.4,105.9 L626.7,103.4 L627.1,100.8 L627.5,98.0 L627.8,95.0 L628.2,91.8 L628.6,88.7 L629.0,85.7 L629.3,83.1 L629.6,80.8 L629.9,78.6 L630.2,76.7 L630.5,74.9 L630.8,73.4 L631.1,72.1 L631.4,71.2 L631.7,70.6 L632.1,70.3 L632.4,70.1 L632.8,69.8 L633.3,69.4 L633.8,68.8 L634.5,68.2 L635.1,67.6 L635.8,66.9 L636.4,66.2 L637.0,65.5 L637.5,64.7 L638.0,63.8 L638.5,62.9 L638.9,62.0 L639.4,61.2 L639.8,60.5 L640.2,60.0 L640.6,59.5 L641.0,59.1 L641.4,58.9 L641.8,58.8 L642.2,58.8 L642.6,59.0 L643.0,59.3 L643.4,59.7 L643.8,60.3 L644.3,61.1 L644.7,62.1 L645.1,63.4 L645.6,64.9 L646.0,66.6 L646.5,68.4 L646.9,70.3 L647.4,72.1 L647.9,73.9 L648.3,75.8 L648.8,77.7 L649.3,79.6 L649.8,81.4 L650.3,83.1 L650.8,84.6 L651.3,86.1 L651.9,87.4 L652.4,88.7 L653.0,89.8 L653.6,90.8 L654.3,91.6 L655.0,92.2 L655.7,92.6 L656.5,93.1 L657.3,93.6 L658.0,94.2 L658.7,95.0 L659.5,95.8 L660.2,96.8 L660.9,97.7 L661.7,98.7 L662.4,99.7 L663.1,100.8 L663.9,101.9 L664.6,103.1 L665.4,104.2 L666.1,105.3 L666.8,106.3 L667.5,107.2 L668.3,108.1 L669.1,108.9 L669.8,109.6 L670.4,110.2 L670.8,110.7" fill="none" stroke="#e0282e" stroke-width="1.3" stroke-linejoin="round"/>
<path d="M536.6,114.0 L537.3,114.1 L538.4,114.3 L539.6,114.5 L540.9,114.7 L542.1,114.9 L543.2,115.1 L544.1,115.3 L544.9,115.4 L545.7,115.6 L546.4,115.7 L547.1,115.7 L547.7,115.6 L548.2,115.4 L548.6,115.3 L548.9,115.0 L549.3,114.6 L549.6,113.9 L549.9,112.9 L550.3,111.4 L550.6,109.6 L551.0,107.5 L551.4,105.3 L551.7,103.0 L552.1,100.8 L552.5,98.6 L552.8,96.2 L553.2,93.9 L553.6,91.6 L553.9,89.4 L554.3,87.5 L554.7,85.8 L555.0,84.4 L555.3,83.0 L555.7,81.8 L556.1,80.8 L556.5,79.8 L557.0,79.0 L557.5,78.4 L558.1,77.9 L558.7,77.4 L559.2,77.0 L559.8,76.5 L560.3,75.9 L560.9,75.4 L561.4,74.8 L562.0,74.3 L562.5,73.7 L563.1,73.2 L563.7,72.6 L564.2,72.0 L564.8,71.4 L565.4,70.9 L565.9,70.5 L566.4,70.3 L566.8,70.2 L567.2,70.3 L567.5,70.5 L567.8,70.8 L568.2,71.3 L568.6,72.1 L569.1,73.1 L569.6,74.4 L570.2,75.9 L570.8,77.5 L571.4,79.2 L572.0,80.9 L572.6,82.7 L573.1,84.6 L573.7,86.5 L574.2,88.5 L574.8,90.3 L575.3,92.0 L575.8,93.5 L576.4,94.9 L576.9,96.3 L577.4,97.5 L578.0,98.6 L578.6,99.7 L579.3,100.6 L580.0,101.4 L580.7,102.2 L581.5,102.8 L582.3,103.4 L583.0,104.1 L583.7,104.8 L584.5,105.4 L585.2,106.0 L585.9,106.6 L586.7,107.2 L587.4,107.8 L588.1,108.5 L588.9,109.1 L589.6,109.8 L590.4,110.5 L591.1,111.2 L591.8,111.8 L592.5,112.4 L593.3,113.1 L594.1,113.7 L594.8,114.3 L595.4,114.7 L595.8,115.1" fill="none" stroke="#3b75b7" stroke-width="1.3" stroke-linejoin="round"/>
<path d="M612.3,114.7 L613.0,114.8 L613.9,115.0 L615.0,115.2 L616.1,115.4 L617.2,115.6 L618.2,115.8 L619.1,115.9 L619.9,116.1 L620.7,116.2 L621.4,116.3 L622.1,116.3 L622.7,116.2 L623.2,116.1 L623.6,116.1 L623.9,116.0 L624.3,115.6 L624.6,115.0 L624.9,114.0 L625.3,112.5 L625.6,110.6 L626.0,108.4 L626.4,105.9 L626.7,103.4 L627.1,100.8 L627.5,98.0 L627.8,94.9 L628.2,91.7 L628.6,88.6 L629.0,85.7 L629.3,83.1 L629.6,80.9 L629.9,78.9 L630.2,77.1 L630.5,75.6 L630.8,74.3 L631.1,73.2 L631.4,72.5 L631.8,72.1 L632.1,72.0 L632.5,72.0 L632.9,72.1 L633.3,72.1 L633.7,72.2 L634.1,72.4 L634.5,72.7 L635.0,73.0 L635.4,73.2 L635.9,73.2 L636.4,73.0 L637.0,72.7 L637.5,72.3 L638.1,71.8 L638.7,71.4 L639.2,71.0 L639.7,70.6 L640.2,70.3 L640.7,69.9 L641.2,69.6 L641.7,69.4 L642.1,69.4 L642.5,69.5 L642.9,69.8 L643.2,70.1 L643.6,70.6 L643.9,71.2 L644.3,72.1 L644.7,73.2 L645.1,74.5 L645.6,76.0 L646.0,77.6 L646.5,79.2 L647.0,80.9 L647.5,82.7 L648.1,84.6 L648.6,86.5 L649.2,88.5 L649.7,90.3 L650.3,92.0 L650.8,93.5 L651.4,94.9 L651.9,96.3 L652.4,97.5 L653.0,98.6 L653.6,99.7 L654.3,100.6 L655.0,101.4 L655.7,102.2 L656.5,102.8 L657.3,103.4 L658.0,104.1 L658.7,104.8 L659.5,105.4 L660.2,106.0 L660.9,106.6 L661.7,107.2 L662.4,107.8 L663.1,108.5 L663.9,109.1 L664.6,109.8 L665.4,110.5 L666.1,111.1 L666.8,111.8 L667.5,112.5 L668.3,113.2 L669.1,114.0 L669.8,114.6 L670.4,115.2 L670.8,115.6" fill="none" stroke="#3b75b7" stroke-width="1.3" stroke-linejoin="round"/>
<line x1="548.8" y1="40.3" x2="548.8" y2="132" stroke="#444" stroke-width="1.4" stroke-dasharray="6.5 3.3" stroke-dashoffset="5.1"/>
<line x1="623.8" y1="40.3" x2="623.8" y2="132" stroke="#444" stroke-width="1.4" stroke-dasharray="6.5 3.3" stroke-dashoffset="5.1"/>
<g stroke="#333" stroke-width="1" fill="none">
 <line x1="533.2" y1="39.7" x2="533.2" y2="129.6"/>
 <line x1="529" y1="70.5" x2="533.2" y2="70.5"/><line x1="529" y1="114.5" x2="533.2" y2="114.5"/>
 <line x1="536.9" y1="132.4" x2="596.6" y2="132.4"/><line x1="548.9" y1="132.4" x2="548.9" y2="136.6"/><line x1="578.5" y1="132.4" x2="578.5" y2="136.6"/>
 <line x1="611.6" y1="132.4" x2="671.3" y2="132.4"/><line x1="623.7" y1="132.4" x2="623.7" y2="136.6"/><line x1="653.7" y1="132.4" x2="653.7" y2="136.6"/>
</g>
<g font-size="10" class="t" text-anchor="end"><text x="527.4" y="74.2">2.5</text><text x="527.4" y="118.2">0.0</text></g>
<g font-size="10" class="t" text-anchor="middle"><text x="548.9" y="146.4">0.0</text><text x="578.5" y="146.4">0.5</text><text x="623.7" y="146.4">0.0</text><text x="653.7" y="146.4">0.5</text></g>
<text x="597.5" y="159.2" font-size="11" text-anchor="middle" class="t">Time(s)</text>
<text transform="translate(508.5,91.8) rotate(-90)" font-size="10.8" text-anchor="middle" class="t">ΔF/F(%)</text>
<text x="581" y="52.4" font-size="11.5" class="t">V1</text>
<text x="655" y="52.4" font-size="11.5" class="t">LM</text>

<!-- ============ PANEL D ============ -->
<text class="lb" x="3.6" y="178.4">d</text>
<g stroke="#a0a0a0" stroke-width="0.5"><line x1="38.3" y1="231.6" x2="65.4" y2="220.2"/><line x1="38.3" y1="236.8" x2="65.4" y2="232.1"/><line x1="38.3" y1="248.2" x2="65.4" y2="239.9"/><line x1="38.3" y1="251.5" x2="65.4" y2="241.5"/><line x1="38.3" y1="253.0" x2="65.4" y2="244.5"/><line x1="38.3" y1="254.5" x2="65.4" y2="246.0"/><line x1="38.3" y1="255.5" x2="65.4" y2="248.0"/><line x1="38.3" y1="256.5" x2="65.4" y2="250.0"/><line x1="38.3" y1="257.5" x2="65.4" y2="252.0"/><line x1="38.3" y1="259.0" x2="65.4" y2="258.8"/><line x1="38.3" y1="266.7" x2="65.4" y2="260.0"/><line x1="38.3" y1="284.4" x2="65.4" y2="280.2"/><line x1="91.0" y1="207.7" x2="118.2" y2="190.4"/><line x1="91.0" y1="231.7" x2="118.2" y2="208.7"/><line x1="91.0" y1="236.0" x2="118.2" y2="219.7"/><line x1="91.0" y1="241.8" x2="118.2" y2="227.6"/><line x1="91.0" y1="248.1" x2="118.2" y2="232.3"/><line x1="91.0" y1="256.0" x2="118.2" y2="246.5"/><line x1="91.0" y1="265.4" x2="118.2" y2="251.2"/><line x1="91.0" y1="278.0" x2="118.2" y2="269.5"/><line x1="91.0" y1="244.5" x2="118.2" y2="230.0"/><line x1="91.0" y1="252.0" x2="118.2" y2="240.0"/><line x1="91.0" y1="238.5" x2="118.2" y2="222.0"/><line x1="91.0" y1="260.0" x2="118.2" y2="248.0"/></g>
<line x1="38.2" y1="247.6" x2="38.2" y2="251.1" stroke="#333" stroke-width="1"/>
<line x1="38.2" y1="260.4" x2="38.2" y2="266.9" stroke="#333" stroke-width="1"/>
<line x1="35.0" y1="247.6" x2="41.5" y2="247.6" stroke="#333" stroke-width="1"/>
<line x1="35.0" y1="266.9" x2="41.5" y2="266.9" stroke="#333" stroke-width="1"/>
<rect x="31.9" y="251.1" width="12.7" height="9.3" fill="#3a78b8" stroke="#333" stroke-width="1"/>
<line x1="31.9" y1="256.1" x2="44.6" y2="256.1" stroke="#333" stroke-width="1"/>
<line x1="65.5" y1="220.2" x2="65.5" y2="238.1" stroke="#333" stroke-width="1"/>
<line x1="65.5" y1="253.4" x2="65.5" y2="260.0" stroke="#333" stroke-width="1"/>
<line x1="62.2" y1="220.2" x2="68.7" y2="220.2" stroke="#333" stroke-width="1"/>
<line x1="62.2" y1="260.0" x2="68.7" y2="260.0" stroke="#333" stroke-width="1"/>
<rect x="59.2" y="238.1" width="12.6" height="15.3" fill="#e3282c" stroke="#333" stroke-width="1"/>
<line x1="59.2" y1="248.3" x2="71.8" y2="248.3" stroke="#333" stroke-width="1"/>
<line x1="91.1" y1="208.0" x2="91.1" y2="234.6" stroke="#333" stroke-width="1"/>
<line x1="91.1" y1="261.1" x2="91.1" y2="279.2" stroke="#333" stroke-width="1"/>
<line x1="87.9" y1="208.0" x2="94.3" y2="208.0" stroke="#333" stroke-width="1"/>
<line x1="87.9" y1="279.2" x2="94.3" y2="279.2" stroke="#333" stroke-width="1"/>
<rect x="84.8" y="234.6" width="12.7" height="26.5" fill="#3a78b8" stroke="#333" stroke-width="1"/>
<line x1="84.8" y1="243.3" x2="97.4" y2="243.3" stroke="#333" stroke-width="1"/>
<line x1="118.2" y1="190.4" x2="118.2" y2="216.4" stroke="#333" stroke-width="1"/>
<line x1="118.2" y1="248.0" x2="118.2" y2="269.2" stroke="#333" stroke-width="1"/>
<line x1="115.0" y1="190.4" x2="121.4" y2="190.4" stroke="#333" stroke-width="1"/>
<line x1="115.0" y1="269.2" x2="121.4" y2="269.2" stroke="#333" stroke-width="1"/>
<rect x="111.9" y="216.4" width="12.6" height="31.6" fill="#e3282c" stroke="#333" stroke-width="1"/>
<line x1="111.9" y1="227.4" x2="124.5" y2="227.4" stroke="#333" stroke-width="1"/>
<g fill="none" stroke-width="0.7"><circle cx="38.3" cy="231.6" r="1.9" stroke="#808080"/><circle cx="38.3" cy="236.8" r="1.9" stroke="#808080"/><circle cx="38.3" cy="248.2" r="1.9" stroke="#808080"/><circle cx="38.3" cy="251.5" r="1.9" stroke="#808080"/><circle cx="38.3" cy="253.0" r="1.9" stroke="#e8e8e8"/><circle cx="38.3" cy="254.5" r="1.9" stroke="#e8e8e8"/><circle cx="38.3" cy="255.5" r="1.9" stroke="#e8e8e8"/><circle cx="38.3" cy="256.5" r="1.9" stroke="#e8e8e8"/><circle cx="38.3" cy="257.5" r="1.9" stroke="#e8e8e8"/><circle cx="38.3" cy="259.0" r="1.9" stroke="#e8e8e8"/><circle cx="38.3" cy="266.7" r="1.9" stroke="#808080"/><circle cx="38.3" cy="284.4" r="1.9" stroke="#808080"/><circle cx="65.4" cy="220.2" r="1.9" stroke="#808080"/><circle cx="65.4" cy="232.1" r="1.9" stroke="#808080"/><circle cx="65.4" cy="239.9" r="1.9" stroke="#e8e8e8"/><circle cx="65.4" cy="241.5" r="1.9" stroke="#e8e8e8"/><circle cx="65.4" cy="244.5" r="1.9" stroke="#e8e8e8"/><circle cx="65.4" cy="246.0" r="1.9" stroke="#e8e8e8"/><circle cx="65.4" cy="248.0" r="1.9" stroke="#e8e8e8"/><circle cx="65.4" cy="250.0" r="1.9" stroke="#e8e8e8"/><circle cx="65.4" cy="252.0" r="1.9" stroke="#e8e8e8"/><circle cx="65.4" cy="258.8" r="1.9" stroke="#808080"/><circle cx="65.4" cy="260.0" r="1.9" stroke="#808080"/><circle cx="65.4" cy="280.2" r="1.9" stroke="#808080"/><circle cx="91.0" cy="207.7" r="1.9" stroke="#808080"/><circle cx="91.0" cy="231.7" r="1.9" stroke="#808080"/><circle cx="91.0" cy="236.0" r="1.9" stroke="#e8e8e8"/><circle cx="91.0" cy="241.8" r="1.9" stroke="#e8e8e8"/><circle cx="91.0" cy="248.1" r="1.9" stroke="#e8e8e8"/><circle cx="91.0" cy="256.0" r="1.9" stroke="#e8e8e8"/><circle cx="91.0" cy="265.4" r="1.9" stroke="#808080"/><circle cx="91.0" cy="278.0" r="1.9" stroke="#808080"/><circle cx="91.0" cy="244.5" r="1.9" stroke="#e8e8e8"/><circle cx="91.0" cy="252.0" r="1.9" stroke="#e8e8e8"/><circle cx="91.0" cy="238.5" r="1.9" stroke="#e8e8e8"/><circle cx="91.0" cy="260.0" r="1.9" stroke="#e8e8e8"/><circle cx="118.2" cy="190.4" r="1.9" stroke="#808080"/><circle cx="118.2" cy="208.7" r="1.9" stroke="#808080"/><circle cx="118.2" cy="219.7" r="1.9" stroke="#e8e8e8"/><circle cx="118.2" cy="227.6" r="1.9" stroke="#e8e8e8"/><circle cx="118.2" cy="232.3" r="1.9" stroke="#e8e8e8"/><circle cx="118.2" cy="246.5" r="1.9" stroke="#e8e8e8"/><circle cx="118.2" cy="251.2" r="1.9" stroke="#808080"/><circle cx="118.2" cy="269.5" r="1.9" stroke="#808080"/><circle cx="118.2" cy="230.0" r="1.9" stroke="#e8e8e8"/><circle cx="118.2" cy="240.0" r="1.9" stroke="#e8e8e8"/><circle cx="118.2" cy="222.0" r="1.9" stroke="#e8e8e8"/><circle cx="118.2" cy="248.0" r="1.9" stroke="#808080"/></g>
<g stroke="#333" stroke-width="1" fill="none">
 <line x1="28" y1="186.4" x2="28" y2="291"/>
 <line x1="23.6" y1="190.2" x2="28" y2="190.2"/>
 <line x1="23.6" y1="223.1" x2="28" y2="223.1"/>
 <line x1="23.6" y1="255.9" x2="28" y2="255.9"/>
 <line x1="23.6" y1="288.7" x2="28" y2="288.7"/>
 <line x1="37.5" y1="294.6" x2="65.7" y2="294.6"/><line x1="51.7" y1="294.6" x2="51.7" y2="298.6"/>
 <line x1="90.7" y1="294.6" x2="118.6" y2="294.6"/><line x1="104.5" y1="294.6" x2="104.5" y2="298.6"/>
 <line x1="38.9" y1="213.2" x2="64.9" y2="213.2" stroke="#444" stroke-width="1.2"/>
 <line x1="92" y1="183.9" x2="117" y2="183.9" stroke="#444" stroke-width="1.2"/>
</g>
<g font-size="10.5" class="t" text-anchor="end"><text x="20.4" y="194">4</text><text x="20.4" y="227">3</text><text x="20.4" y="259.7">2</text><text x="20.4" y="292.5">1</text></g>
<text transform="translate(8.8,240.6) rotate(-90)" font-size="11" text-anchor="middle" class="t">ΔF/F (%)</text>
<g font-size="10.8" class="t" text-anchor="middle"><text x="51.7" y="313.2">V1</text><text x="105.5" y="313.2">LM</text></g>
<g font-size="10.5" class="t" text-anchor="middle" font-weight="bold"><text x="51.2" y="214.2">****</text><text x="104.6" y="184.8">****</text></g>
<!-- ============ PANEL E ============ -->
<text class="lb" x="134.6" y="177.9">e</text>
<text x="145.6" y="185.2" font-size="12" class="t">Average difference</text>
<g transform="translate(147,191.3)">
 <rect width="99.3" height="104.4" fill="url(#eBG)"/>
 <rect width="99.3" height="104.4" fill="url(#eW)"/>
 <rect width="99.3" height="104.4" fill="url(#eW2)"/>
 <rect width="99.3" height="104.4" fill="url(#eR3)"/>
 <rect width="99.3" height="104.4" fill="url(#eR1)"/>
 <rect width="99.3" height="104.4" fill="url(#eR2)"/>
 <rect width="99.3" height="104.4" fill="url(#eB)"/>
 <g fill="none" stroke="#3a3a3a" stroke-width="0.7"><use href="#ol"/></g>
 <rect width="99.3" height="104.4" fill="none" stroke="#444" stroke-width="1"/>
</g>
<rect x="248.6" y="199.9" width="6.2" height="84.5" fill="url(#bwr)"/>
<g stroke="#333" stroke-width="0.8"><line x1="254.8" y1="200.3" x2="256.6" y2="200.3"/><line x1="254.8" y1="284.2" x2="256.6" y2="284.2"/></g>
<text x="261.6" y="206.2" font-size="10.3" class="t">1.0</text>
<text x="260" y="288.2" font-size="11" class="t">−1.0</text>
<text transform="translate(261.2,237.7) rotate(90)" font-size="11" text-anchor="middle" class="t">ΔF/F (%)</text>
<!-- ============ PANEL F ============ -->
<text class="lb" x="282.6" y="177.4">f</text>
<text x="297.2" y="185.8" font-size="12" class="t">Significance map</text>
<g transform="translate(291.4,191.3)">
 <rect width="98.4" height="104.8" fill="#fff"/>
 <g fill="#fff" stroke="#3a3a3a" stroke-width="0.7"><use href="#ol"/></g>
 <path d="M66.2,31.6 Q68.6,31.7 71.6,35.2" fill="none" stroke="#8060a0" stroke-width="1.3" stroke-linecap="round"/>
 <path d="M72.0,34.5 L75.7,36.0 L79.3,40.3 L80.0,44.7 L82.2,51.9 L84.4,57.7 L85.1,63.6 L83.7,67.9 L80.0,70.8 L76.4,70.1 L73.5,67.2 L71.3,62.1 L69.1,54.8 L68.4,47.6 L69.1,41.8 L70.6,36.7Z" fill="#7686ae" stroke="#8060a0" stroke-width="0.9" stroke-linejoin="round"/>
 <path d="M71.4,42.2 L76.1,41.7 L78.6,45.2 L80.6,51.9 L83.1,58.5 L83.9,64.3 L81.1,68.3 L76.4,68.3 L73.8,64.3 L71.8,57.0 L70.4,50.5 L70.2,45.7Z" fill="#69a3b0"/>
 <path d="M71.6,46.7 L77.4,47.2 L79.8,52.2 L82.4,58.5 L83.2,64.1 L80.6,67.3 L76.6,67.3 L74.4,63.9 L72.4,57.0 L71.1,50.7Z" fill="#63bfaa"/>
 <ellipse cx="76.4" cy="53.4" rx="1.5" ry="1.6" fill="#8ed991"/>
 <ellipse cx="78.1" cy="63.3" rx="2.4" ry="3" fill="#8ed991"/>
 <path d="M52.1,58.7 L55.6,57.5 L59.1,58.7 L60.1,62.7 L59.8,66.2 L62.6,68.2 L65.9,70.2 L66.4,74.2 L65.1,78.7 L62.1,82.2 L58.1,83.2 L55.1,81.2 L52.6,76.7 L51.2,70.7 L51.0,63.7Z" fill="#7686ae" stroke="#8060a0" stroke-width="0.9" stroke-linejoin="round"/>
 <ellipse cx="58.3" cy="76.4" rx="2.4" ry="4.3" transform="rotate(-22 58.3 76.4)" fill="#69a3b0"/>
 <ellipse cx="58.5" cy="76.7" rx="1.6" ry="3.2" transform="rotate(-22 58.5 76.7)" fill="#63bfaa"/>
 <g fill="none" stroke="#3a3a3a" stroke-width="0.5" opacity="0.6"><use href="#ol"/></g>
 <rect width="98.4" height="104.8" fill="none" stroke="#444" stroke-width="1"/>
</g>
<rect x="392.9" y="204.70" width="5.8" height="14.40" fill="#7f629b"/>
<rect x="392.9" y="218.80" width="5.8" height="14.40" fill="#7686ae"/>
<rect x="392.9" y="232.90" width="5.8" height="14.40" fill="#69a3b0"/>
<rect x="392.9" y="247.00" width="5.8" height="14.40" fill="#63bfaa"/>
<rect x="392.9" y="261.10" width="5.8" height="14.40" fill="#8ed991"/>
<rect x="392.9" y="275.20" width="5.8" height="14.40" fill="#d8e963"/>
<rect x="392.9" y="204.7" width="5.8" height="84.6" fill="none" stroke="#777" stroke-width="0.3"/>
<g stroke="#333" stroke-width="0.8"><line x1="398.7" y1="209.3" x2="400.4" y2="209.3"/><line x1="398.7" y1="280.2" x2="400.4" y2="280.2"/></g>
<text x="403.4" y="212.9" font-size="10.3" class="t">-2</text>
<text x="403.4" y="284.3" font-size="10.3" class="t">-5</text>
<text transform="translate(406.5,244.2) rotate(90)" font-size="11" text-anchor="middle" class="t">log p</text>
<!-- ============ PANEL G ============ -->
<text class="lb" x="432.2" y="177.9">g</text>
<g stroke="#333" stroke-width="1">
<line x1="475.1" y1="224.2" x2="475.1" y2="233.3"/>
<line x1="475.1" y1="281.5" x2="475.1" y2="285.8"/>
<line x1="471.9" y1="224.2" x2="478.3" y2="224.2"/>
<line x1="471.9" y1="285.8" x2="478.3" y2="285.8"/>
<rect x="467.2" y="233.3" width="15.8" height="48.2" fill="#f0f0f0"/>
<line x1="467.2" y1="271.3" x2="483.0" y2="271.3"/>
<line x1="494.0" y1="188.6" x2="494.0" y2="191.4"/>
<line x1="494.0" y1="200.3" x2="494.0" y2="203.7"/>
<line x1="490.8" y1="188.6" x2="497.2" y2="188.6"/>
<line x1="490.8" y1="203.7" x2="497.2" y2="203.7"/>
<rect x="486.2" y="191.4" width="15.6" height="8.9" fill="#f0f0f0"/>
<line x1="486.2" y1="196.1" x2="501.8" y2="196.1"/>
<line x1="512.5" y1="255.9" x2="512.5" y2="260.9"/>
<line x1="512.5" y1="281.5" x2="512.5" y2="285.8"/>
<line x1="509.3" y1="255.9" x2="515.7" y2="255.9"/>
<line x1="509.3" y1="285.8" x2="515.7" y2="285.8"/>
<rect x="504.9" y="260.9" width="15.2" height="20.6" fill="#f0f0f0"/>
<line x1="504.9" y1="276.0" x2="520.1" y2="276.0"/>
<line x1="524.2" y1="286.4" x2="538.6" y2="286.4"/>
<line x1="542.6" y1="286.4" x2="558.3" y2="286.4"/>
</g>
<g fill="none" stroke="#777" stroke-width="0.6"><circle cx="475.1" cy="224.2" r="1.8"/><circle cx="475.1" cy="226.5" r="1.8"/><circle cx="475.1" cy="229.0" r="1.8"/><circle cx="475.1" cy="233.4" r="1.8"/><circle cx="475.1" cy="266.0" r="1.8"/><circle cx="475.1" cy="270.7" r="1.8"/><circle cx="475.1" cy="275.4" r="1.8"/><circle cx="475.1" cy="279.6" r="1.8"/><circle cx="475.1" cy="283.0" r="1.8"/><circle cx="475.1" cy="285.8" r="1.8"/><circle cx="475.1" cy="284.5" r="1.8"/><circle cx="494.0" cy="188.6" r="1.8"/><circle cx="494.0" cy="190.5" r="1.8"/><circle cx="494.0" cy="193.0" r="1.8"/><circle cx="494.0" cy="195.5" r="1.8"/><circle cx="494.0" cy="198.0" r="1.8"/><circle cx="494.0" cy="200.5" r="1.8"/><circle cx="494.0" cy="203.7" r="1.8"/><circle cx="494.0" cy="226.0" r="1.8"/><circle cx="512.5" cy="225.7" r="1.8"/><circle cx="512.5" cy="255.9" r="1.8"/><circle cx="512.5" cy="258.0" r="1.8"/><circle cx="512.5" cy="273.0" r="1.8"/><circle cx="512.5" cy="275.5" r="1.8"/><circle cx="512.5" cy="279.5" r="1.8"/><circle cx="512.5" cy="282.0" r="1.8"/><circle cx="512.5" cy="285.8" r="1.8"/><circle cx="531.4" cy="286.4" r="1.8"/><circle cx="550.5" cy="286.4" r="1.8"/><circle cx="550.6" cy="224.3" r="1.8"/></g>
<g stroke="#333" stroke-width="1" fill="none">
 <line x1="463" y1="186.1" x2="463" y2="290.8"/>
 <line x1="458.8" y1="191.1" x2="463" y2="191.1"/>
 <line x1="458.8" y1="239.0" x2="463" y2="239.0"/>
 <line x1="458.8" y1="287.0" x2="463" y2="287.0"/>
 <line x1="465.4" y1="293.6" x2="560.2" y2="293.6"/>
 <line x1="474.6" y1="293.6" x2="474.6" y2="298.2"/>
 <line x1="493.5" y1="293.6" x2="493.5" y2="298.2"/>
 <line x1="512.5" y1="293.6" x2="512.5" y2="298.2"/>
 <line x1="531.5" y1="293.6" x2="531.5" y2="298.2"/>
 <line x1="550.6" y1="293.6" x2="550.6" y2="298.2"/>
</g>
<g font-size="10" class="t" text-anchor="end"><text x="456.5" y="194.8">1.0</text><text x="456.5" y="242.7">0.5</text><text x="456.5" y="290.7">0.0</text></g>
<text transform="translate(436.3,241.7) rotate(-90)" font-size="11" text-anchor="middle" class="t">Proportion of area</text>
<g font-size="10.6" class="t" text-anchor="middle"><text x="474.6" y="311.4">V1</text><text x="493.5" y="311.4">LM</text><text x="512.5" y="311.4">RL</text><text x="531.5" y="311.4">AM</text><text x="550.6" y="311.4">PM</text></g>
<!-- ============ PANEL H ============ -->
<text class="lb" x="575.2" y="177.9">h</text>
<rect x="604.8" y="259.6" width="79.7" height="26.7" fill="#d3d3d3"/>
<line x1="605.8" y1="272.3" x2="684.5" y2="272.3" stroke="#444" stroke-width="1.3" stroke-dasharray="6.3 3.9"/>
<g stroke="#aaa" stroke-width="0.5"><line x1="624.4" y1="226.1" x2="664.8" y2="212.0"/><line x1="624.4" y1="232.0" x2="664.8" y2="205.7"/><line x1="624.4" y1="236.5" x2="664.8" y2="221.0"/><line x1="624.4" y1="240.0" x2="664.8" y2="216.0"/><line x1="624.4" y1="243.0" x2="664.8" y2="226.0"/><line x1="624.4" y1="245.0" x2="664.8" y2="229.0"/><line x1="624.4" y1="247.0" x2="664.8" y2="218.0"/><line x1="624.4" y1="249.0" x2="664.8" y2="231.0"/><line x1="624.4" y1="251.0" x2="664.8" y2="223.5"/><line x1="624.4" y1="253.0" x2="664.8" y2="235.6"/><line x1="624.4" y1="256.0" x2="664.8" y2="227.0"/><line x1="624.4" y1="261.6" x2="664.8" y2="225.0"/></g>
<g stroke="#333" stroke-width="1">
<line x1="624.6" y1="226.1" x2="624.6" y2="237.1"/>
<line x1="624.6" y1="252.3" x2="624.6" y2="261.6"/>
<line x1="621.4" y1="226.1" x2="627.8" y2="226.1"/>
<line x1="621.4" y1="261.6" x2="627.8" y2="261.6"/>
<rect x="616.4" y="237.1" width="16.4" height="15.2" fill="#9e5338"/>
<line x1="616.4" y1="248.8" x2="632.8" y2="248.8"/>
<line x1="664.8" y1="205.7" x2="664.8" y2="215.7"/>
<line x1="664.8" y1="228.8" x2="664.8" y2="235.6"/>
<line x1="661.6" y1="205.7" x2="668.0" y2="205.7"/>
<line x1="661.6" y1="235.6" x2="668.0" y2="235.6"/>
<rect x="656.8" y="215.7" width="16.1" height="13.1" fill="#f2c09a"/>
<line x1="656.8" y1="223.8" x2="672.8" y2="223.8"/>
</g>
<g fill="none" stroke="#555" stroke-width="0.6"><circle cx="624.4" cy="226.1" r="1.8"/><circle cx="624.4" cy="232.0" r="1.8"/><circle cx="624.4" cy="236.5" r="1.8"/><circle cx="624.4" cy="240.0" r="1.8"/><circle cx="624.4" cy="243.0" r="1.8"/><circle cx="624.4" cy="245.0" r="1.8"/><circle cx="624.4" cy="247.0" r="1.8"/><circle cx="624.4" cy="249.0" r="1.8"/><circle cx="624.4" cy="251.0" r="1.8"/><circle cx="624.4" cy="253.0" r="1.8"/><circle cx="624.4" cy="256.0" r="1.8"/><circle cx="624.4" cy="261.6" r="1.8"/><circle cx="664.8" cy="212.0" r="1.8"/><circle cx="664.8" cy="205.7" r="1.8"/><circle cx="664.8" cy="221.0" r="1.8"/><circle cx="664.8" cy="216.0" r="1.8"/><circle cx="664.8" cy="226.0" r="1.8"/><circle cx="664.8" cy="229.0" r="1.8"/><circle cx="664.8" cy="218.0" r="1.8"/><circle cx="664.8" cy="231.0" r="1.8"/><circle cx="664.8" cy="223.5" r="1.8"/><circle cx="664.8" cy="235.6" r="1.8"/><circle cx="664.8" cy="227.0" r="1.8"/><circle cx="664.8" cy="225.0" r="1.8"/></g>
<g stroke="#333" stroke-width="1" fill="none">
 <line x1="601.6" y1="186.4" x2="601.6" y2="291.2"/>
 <line x1="596.6" y1="212.4" x2="601.6" y2="212.4"/>
 <line x1="596.6" y1="242.4" x2="601.6" y2="242.4"/>
 <line x1="596.6" y1="272.3" x2="601.6" y2="272.3"/>
 <line x1="611.1" y1="293.8" x2="636.1" y2="293.8"/><line x1="624.2" y1="293.8" x2="624.2" y2="298.2"/>
 <line x1="651.7" y1="293.8" x2="676.4" y2="293.8"/><line x1="664.2" y1="293.8" x2="664.2" y2="298.2"/>
</g>
<g font-size="10.3" class="t" text-anchor="end"><text x="595.4" y="216.1">1.0</text><text x="595.4" y="246.1">0.5</text><text x="595.4" y="276">0.0</text></g>
<text transform="translate(575.2,238.2) rotate(-90)" font-size="11.4" text-anchor="middle" class="t">Widefield d'</text>
<g font-size="10.8" class="t" text-anchor="middle"><text x="624.2" y="310.2">V1</text><text x="664.4" y="310.2">LM</text></g>
<text x="621.6" y="189.3" font-size="10.6" class="t">p = 3x10<tspan font-size="7.6" dy="-4.2">-6</tspan></text>
</svg>
</body></html>
